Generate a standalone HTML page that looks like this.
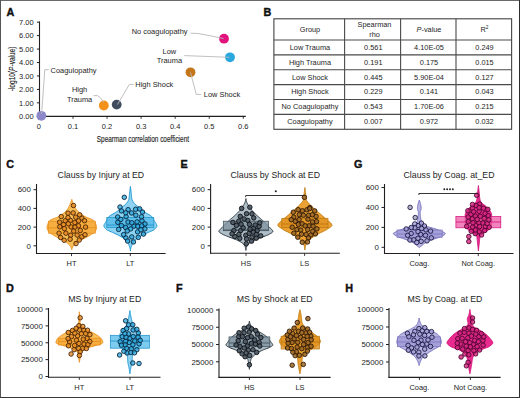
<!DOCTYPE html>
<html><head><meta charset="utf-8"><style>
html,body{margin:0;padding:0;background:#fff;}
#fig{position:relative;width:520px;height:398px;overflow:hidden;background:#fff;}
svg{position:absolute;left:0;top:0;}
text{font-family:"Liberation Sans", sans-serif;}
</style></head><body><div id="fig">
<svg width="520" height="398" viewBox="0 0 520 398">
<rect x="0" y="0" width="520" height="398" fill="#fff"/>
<text x="6.60" y="15.60" font-size="10.8" text-anchor="start" fill="#111" font-weight="bold" stroke="#111" stroke-width="0.4">A</text>
<line x1="39.50" y1="21.50" x2="39.50" y2="116.90" stroke="#231f20" stroke-width="1.1" />
<line x1="39.00" y1="116.40" x2="245.80" y2="116.40" stroke="#231f20" stroke-width="1.1" />
<line x1="36.90" y1="116.30" x2="39.50" y2="116.30" stroke="#231f20" stroke-width="1" />
<text x="33.60" y="119.05" font-size="7.5" text-anchor="end" fill="#1e1e1e" font-weight="normal" >0.00</text>
<line x1="36.90" y1="102.85" x2="39.50" y2="102.85" stroke="#231f20" stroke-width="1" />
<text x="33.60" y="105.60" font-size="7.5" text-anchor="end" fill="#1e1e1e" font-weight="normal" >1.00</text>
<line x1="36.90" y1="89.40" x2="39.50" y2="89.40" stroke="#231f20" stroke-width="1" />
<text x="33.60" y="92.15" font-size="7.5" text-anchor="end" fill="#1e1e1e" font-weight="normal" >2.00</text>
<line x1="36.90" y1="75.95" x2="39.50" y2="75.95" stroke="#231f20" stroke-width="1" />
<text x="33.60" y="78.70" font-size="7.5" text-anchor="end" fill="#1e1e1e" font-weight="normal" >3.00</text>
<line x1="36.90" y1="62.50" x2="39.50" y2="62.50" stroke="#231f20" stroke-width="1" />
<text x="33.60" y="65.25" font-size="7.5" text-anchor="end" fill="#1e1e1e" font-weight="normal" >4.00</text>
<line x1="36.90" y1="49.05" x2="39.50" y2="49.05" stroke="#231f20" stroke-width="1" />
<text x="33.60" y="51.80" font-size="7.5" text-anchor="end" fill="#1e1e1e" font-weight="normal" >5.00</text>
<line x1="36.90" y1="35.60" x2="39.50" y2="35.60" stroke="#231f20" stroke-width="1" />
<text x="33.60" y="38.35" font-size="7.5" text-anchor="end" fill="#1e1e1e" font-weight="normal" >6.00</text>
<line x1="36.90" y1="22.15" x2="39.50" y2="22.15" stroke="#231f20" stroke-width="1" />
<text x="33.60" y="24.90" font-size="7.5" text-anchor="end" fill="#1e1e1e" font-weight="normal" >7.00</text>
<line x1="38.94" y1="116.40" x2="38.94" y2="118.80" stroke="#231f20" stroke-width="0.9" />
<text x="38.94" y="128.90" font-size="7.5" text-anchor="middle" fill="#1e1e1e" font-weight="normal" >0</text>
<line x1="73.00" y1="116.40" x2="73.00" y2="118.80" stroke="#231f20" stroke-width="0.9" />
<text x="73.00" y="128.90" font-size="7.5" text-anchor="middle" fill="#1e1e1e" font-weight="normal" >0.1</text>
<line x1="107.06" y1="116.40" x2="107.06" y2="118.80" stroke="#231f20" stroke-width="0.9" />
<text x="107.06" y="128.90" font-size="7.5" text-anchor="middle" fill="#1e1e1e" font-weight="normal" >0.2</text>
<line x1="141.12" y1="116.40" x2="141.12" y2="118.80" stroke="#231f20" stroke-width="0.9" />
<text x="141.12" y="128.90" font-size="7.5" text-anchor="middle" fill="#1e1e1e" font-weight="normal" >0.3</text>
<line x1="175.18" y1="116.40" x2="175.18" y2="118.80" stroke="#231f20" stroke-width="0.9" />
<text x="175.18" y="128.90" font-size="7.5" text-anchor="middle" fill="#1e1e1e" font-weight="normal" >0.4</text>
<line x1="209.24" y1="116.40" x2="209.24" y2="118.80" stroke="#231f20" stroke-width="0.9" />
<text x="209.24" y="128.90" font-size="7.5" text-anchor="middle" fill="#1e1e1e" font-weight="normal" >0.5</text>
<line x1="243.30" y1="116.40" x2="243.30" y2="118.80" stroke="#231f20" stroke-width="0.9" />
<text x="243.30" y="128.90" font-size="7.5" text-anchor="middle" fill="#1e1e1e" font-weight="normal" >0.6</text>
<text transform="translate(14.7,68.9) rotate(-90) scale(0.80,1)" font-size="8.2" text-anchor="middle" fill="#1e1e1e" stroke="#1e1e1e" stroke-width="0.12">-log10(<tspan font-style="italic">P</tspan>-value)</text>
<text transform="translate(96.8,141.8) scale(0.70,1)" font-size="9.2" fill="#1e1e1e" stroke="#1e1e1e" stroke-width="0.15">Spearman correlation coefficient</text>
<circle cx="41.30" cy="115.80" r="4.9" fill="#8c87c8"/>
<circle cx="103.80" cy="105.50" r="4.9" fill="#f39019"/>
<circle cx="116.70" cy="104.60" r="4.9" fill="#3f4b5e"/>
<circle cx="190.50" cy="72.30" r="4.9" fill="#c4761a"/>
<circle cx="230.00" cy="57.30" r="4.9" fill="#29a7de"/>
<circle cx="224.00" cy="38.70" r="4.9" fill="#e3137d"/>
<path d="M41.6,114 L44.8,69.7 L48.8,69.7" fill="none" stroke="#b9b9b9" stroke-width="0.9"/>
<path d="M103.5,102.5 Q100.5,96.5 97.5,95.6 L93.6,95.6" fill="none" stroke="#b9b9b9" stroke-width="0.9"/>
<path d="M117.5,104.5 L129.4,84.4 L133.5,84.4" fill="none" stroke="#b9b9b9" stroke-width="0.9"/>
<path d="M190.5,72.5 L196.3,94.4 L201.2,94.4" fill="none" stroke="#b9b9b9" stroke-width="0.9"/>
<path d="M229.5,57.3 L184.3,55.6" fill="none" stroke="#b9b9b9" stroke-width="0.9"/>
<path d="M223.5,38.6 Q210,35.5 198,33.5 L190.7,33.2" fill="none" stroke="#b9b9b9" stroke-width="0.9"/>
<text x="50.60" y="72.60" font-size="7.45" text-anchor="start" fill="#1e1e1e" font-weight="normal" >Coagulopathy</text>
<text x="79.60" y="92.40" font-size="7.45" text-anchor="middle" fill="#1e1e1e" font-weight="normal" >High</text>
<text x="79.60" y="101.60" font-size="7.45" text-anchor="middle" fill="#1e1e1e" font-weight="normal" >Trauma</text>
<text x="135.30" y="87.20" font-size="7.45" text-anchor="start" fill="#1e1e1e" font-weight="normal" >High Shock</text>
<text x="203.80" y="97.20" font-size="7.45" text-anchor="start" fill="#1e1e1e" font-weight="normal" >Low Shock</text>
<text x="169.40" y="54.10" font-size="7.45" text-anchor="middle" fill="#1e1e1e" font-weight="normal" >Low</text>
<text x="169.40" y="62.90" font-size="7.45" text-anchor="middle" fill="#1e1e1e" font-weight="normal" >Trauma</text>
<text x="131.70" y="33.80" font-size="7.45" text-anchor="start" fill="#1e1e1e" font-weight="normal" >No coagulopathy</text>
<text x="263.40" y="15.60" font-size="10.8" text-anchor="start" fill="#111" font-weight="bold" stroke="#111" stroke-width="0.4">B</text>
<rect x="273.9" y="18.8" width="237.70" height="110.50" fill="none" stroke="#4a4a4a" stroke-width="1.15"/>
<line x1="273.90" y1="40.00" x2="511.60" y2="40.00" stroke="#4a4a4a" stroke-width="1.1" />
<line x1="273.90" y1="54.90" x2="511.60" y2="54.90" stroke="#4a4a4a" stroke-width="1.1" />
<line x1="273.90" y1="69.80" x2="511.60" y2="69.80" stroke="#4a4a4a" stroke-width="1.1" />
<line x1="273.90" y1="84.60" x2="511.60" y2="84.60" stroke="#4a4a4a" stroke-width="1.1" />
<line x1="273.90" y1="99.50" x2="511.60" y2="99.50" stroke="#4a4a4a" stroke-width="1.1" />
<line x1="273.90" y1="114.40" x2="511.60" y2="114.40" stroke="#4a4a4a" stroke-width="1.1" />
<line x1="344.60" y1="18.80" x2="344.60" y2="129.30" stroke="#4a4a4a" stroke-width="1.1" />
<line x1="400.60" y1="18.80" x2="400.60" y2="129.30" stroke="#4a4a4a" stroke-width="1.1" />
<line x1="456.00" y1="18.80" x2="456.00" y2="129.30" stroke="#4a4a4a" stroke-width="1.1" />
<text x="309.95" y="31.70" font-size="7.35" text-anchor="middle" fill="#1e1e1e" font-weight="normal" >Group</text>
<text x="374.50" y="27.00" font-size="7.35" text-anchor="middle" fill="#1e1e1e" font-weight="normal" >Spearman</text>
<text x="374.50" y="36.60" font-size="7.35" text-anchor="middle" fill="#1e1e1e" font-weight="normal" >rho</text>
<text x="429.00" y="31.70" font-size="7.35" text-anchor="middle" fill="#1e1e1e" font-weight="normal" ><tspan font-style="italic">P</tspan>-value</text>
<text x="484.50" y="31.70" font-size="7.35" text-anchor="middle" fill="#1e1e1e" font-weight="normal" >R<tspan font-size="4.8" dy="-2.9">2</tspan></text>
<text x="309.95" y="49.80" font-size="7.35" text-anchor="middle" fill="#1e1e1e" font-weight="normal" >Low Trauma</text>
<text x="373.30" y="49.80" font-size="7.35" text-anchor="middle" fill="#1e1e1e" font-weight="normal" >0.561</text>
<text x="429.00" y="49.80" font-size="7.35" text-anchor="middle" fill="#1e1e1e" font-weight="normal" >4.10E-05</text>
<text x="484.50" y="49.80" font-size="7.35" text-anchor="middle" fill="#1e1e1e" font-weight="normal" >0.249</text>
<text x="309.95" y="64.70" font-size="7.35" text-anchor="middle" fill="#1e1e1e" font-weight="normal" >High Trauma</text>
<text x="373.30" y="64.70" font-size="7.35" text-anchor="middle" fill="#1e1e1e" font-weight="normal" >0.191</text>
<text x="429.00" y="64.70" font-size="7.35" text-anchor="middle" fill="#1e1e1e" font-weight="normal" >0.175</text>
<text x="484.50" y="64.70" font-size="7.35" text-anchor="middle" fill="#1e1e1e" font-weight="normal" >0.015</text>
<text x="309.95" y="79.55" font-size="7.35" text-anchor="middle" fill="#1e1e1e" font-weight="normal" >Low Shock</text>
<text x="373.30" y="79.55" font-size="7.35" text-anchor="middle" fill="#1e1e1e" font-weight="normal" >0.445</text>
<text x="429.00" y="79.55" font-size="7.35" text-anchor="middle" fill="#1e1e1e" font-weight="normal" >5.90E-04</text>
<text x="484.50" y="79.55" font-size="7.35" text-anchor="middle" fill="#1e1e1e" font-weight="normal" >0.127</text>
<text x="309.95" y="94.40" font-size="7.35" text-anchor="middle" fill="#1e1e1e" font-weight="normal" >High Shock</text>
<text x="373.30" y="94.40" font-size="7.35" text-anchor="middle" fill="#1e1e1e" font-weight="normal" >0.229</text>
<text x="429.00" y="94.40" font-size="7.35" text-anchor="middle" fill="#1e1e1e" font-weight="normal" >0.141</text>
<text x="484.50" y="94.40" font-size="7.35" text-anchor="middle" fill="#1e1e1e" font-weight="normal" >0.043</text>
<text x="309.95" y="109.30" font-size="7.35" text-anchor="middle" fill="#1e1e1e" font-weight="normal" >No Coagulopathy</text>
<text x="373.30" y="109.30" font-size="7.35" text-anchor="middle" fill="#1e1e1e" font-weight="normal" >0.543</text>
<text x="429.00" y="109.30" font-size="7.35" text-anchor="middle" fill="#1e1e1e" font-weight="normal" >1.70E-06</text>
<text x="484.50" y="109.30" font-size="7.35" text-anchor="middle" fill="#1e1e1e" font-weight="normal" >0.215</text>
<text x="309.95" y="124.20" font-size="7.35" text-anchor="middle" fill="#1e1e1e" font-weight="normal" >Coagulopathy</text>
<text x="373.30" y="124.20" font-size="7.35" text-anchor="middle" fill="#1e1e1e" font-weight="normal" >0.007</text>
<text x="429.00" y="124.20" font-size="7.35" text-anchor="middle" fill="#1e1e1e" font-weight="normal" >0.972</text>
<text x="484.50" y="124.20" font-size="7.35" text-anchor="middle" fill="#1e1e1e" font-weight="normal" >0.032</text>
<text x="6.30" y="167.60" font-size="10.8" text-anchor="start" fill="#111" font-weight="bold" stroke="#111" stroke-width="0.4">C</text>
<text x="100.90" y="178.10" font-size="8.75" text-anchor="middle" fill="#1e1e1e" font-weight="normal" >Clauss by Injury at ED</text>
<line x1="36.50" y1="184.00" x2="36.50" y2="254.00" stroke="#231f20" stroke-width="1.1" />
<line x1="36.00" y1="253.50" x2="165.60" y2="253.50" stroke="#231f20" stroke-width="1.1" />
<line x1="33.50" y1="189.70" x2="36.50" y2="189.70" stroke="#231f20" stroke-width="1" />
<text x="30.90" y="192.45" font-size="7.9" text-anchor="end" fill="#1e1e1e" font-weight="normal" >600</text>
<line x1="33.50" y1="208.40" x2="36.50" y2="208.40" stroke="#231f20" stroke-width="1" />
<text x="30.90" y="211.15" font-size="7.9" text-anchor="end" fill="#1e1e1e" font-weight="normal" >400</text>
<line x1="33.50" y1="227.10" x2="36.50" y2="227.10" stroke="#231f20" stroke-width="1" />
<text x="30.90" y="229.85" font-size="7.9" text-anchor="end" fill="#1e1e1e" font-weight="normal" >200</text>
<line x1="33.50" y1="245.80" x2="36.50" y2="245.80" stroke="#231f20" stroke-width="1" />
<text x="30.90" y="248.55" font-size="7.9" text-anchor="end" fill="#1e1e1e" font-weight="normal" >0</text>
<line x1="71.50" y1="253.50" x2="71.50" y2="256.10" stroke="#231f20" stroke-width="0.9" />
<text x="71.50" y="265.75" font-size="7.45" text-anchor="middle" fill="#1e1e1e" font-weight="normal" >HT</text>
<line x1="130.30" y1="253.50" x2="130.30" y2="256.10" stroke="#231f20" stroke-width="0.9" />
<text x="130.30" y="265.75" font-size="7.45" text-anchor="middle" fill="#1e1e1e" font-weight="normal" >LT</text>
<path d="M71.80,199.40 L71.68,199.82 L71.55,200.24 L71.41,200.67 L71.27,201.09 L71.13,201.51 L70.98,201.93 L70.82,202.35 L70.66,202.77 L70.50,203.20 L70.33,203.62 L70.16,204.04 L69.99,204.46 L69.81,204.88 L69.63,205.31 L69.44,205.73 L69.25,206.15 L69.04,206.57 L68.83,206.99 L68.60,207.42 L68.36,207.84 L68.10,208.26 L67.83,208.68 L67.54,209.10 L67.23,209.52 L66.90,209.95 L66.55,210.37 L66.18,210.79 L65.79,211.21 L65.39,211.63 L64.97,212.06 L64.52,212.48 L64.05,212.90 L63.55,213.32 L63.00,213.74 L62.43,214.16 L61.82,214.59 L61.18,215.01 L60.51,215.43 L59.82,215.85 L59.10,216.27 L58.36,216.70 L57.58,217.12 L56.63,217.54 L55.56,217.96 L54.42,218.38 L53.28,218.81 L52.19,219.23 L51.23,219.65 L50.45,220.07 L49.91,220.49 L49.54,220.91 L49.20,221.34 L48.91,221.76 L48.64,222.18 L48.41,222.60 L48.21,223.02 L48.03,223.45 L47.88,223.87 L47.74,224.29 L47.61,224.71 L47.48,225.13 L47.36,225.55 L47.25,225.98 L47.15,226.40 L47.08,226.82 L47.03,227.24 L47.00,227.66 L47.01,228.09 L47.08,228.51 L47.20,228.93 L47.35,229.35 L47.55,229.77 L47.77,230.19 L48.01,230.62 L48.27,231.04 L48.54,231.46 L48.88,231.88 L49.33,232.30 L49.85,232.73 L50.42,233.15 L51.03,233.57 L51.65,233.99 L52.26,234.41 L52.90,234.84 L53.58,235.26 L54.28,235.68 L55.02,236.10 L55.77,236.52 L56.54,236.94 L57.32,237.37 L58.15,237.79 L59.04,238.21 L59.94,238.63 L60.85,239.05 L61.73,239.48 L62.56,239.90 L63.30,240.32 L64.01,240.74 L64.69,241.16 L65.34,241.58 L65.96,242.01 L66.55,242.43 L67.09,242.85 L67.61,243.27 L68.11,243.69 L68.59,244.12 L69.05,244.54 L69.48,244.96 L69.86,245.38 L70.17,245.80 L70.43,246.23 L70.68,246.65 L70.91,247.07 L71.13,247.49 L71.33,247.91 L71.50,248.33 L71.64,248.76 L71.74,249.18 L71.80,249.60 L71.80,249.60 L71.86,249.18 L71.96,248.76 L72.10,248.33 L72.27,247.91 L72.47,247.49 L72.69,247.07 L72.92,246.65 L73.17,246.23 L73.43,245.80 L73.74,245.38 L74.12,244.96 L74.55,244.54 L75.01,244.12 L75.49,243.69 L75.99,243.27 L76.51,242.85 L77.05,242.43 L77.64,242.01 L78.26,241.58 L78.91,241.16 L79.59,240.74 L80.30,240.32 L81.04,239.90 L81.87,239.48 L82.75,239.05 L83.66,238.63 L84.56,238.21 L85.45,237.79 L86.28,237.37 L87.06,236.94 L87.83,236.52 L88.58,236.10 L89.32,235.68 L90.02,235.26 L90.70,234.84 L91.34,234.41 L91.95,233.99 L92.57,233.57 L93.18,233.15 L93.75,232.73 L94.27,232.30 L94.72,231.88 L95.06,231.46 L95.33,231.04 L95.59,230.62 L95.83,230.19 L96.05,229.77 L96.25,229.35 L96.40,228.93 L96.52,228.51 L96.59,228.09 L96.60,227.66 L96.57,227.24 L96.52,226.82 L96.45,226.40 L96.35,225.98 L96.24,225.55 L96.12,225.13 L95.99,224.71 L95.86,224.29 L95.72,223.87 L95.57,223.45 L95.39,223.02 L95.19,222.60 L94.96,222.18 L94.69,221.76 L94.40,221.34 L94.06,220.91 L93.69,220.49 L93.15,220.07 L92.37,219.65 L91.41,219.23 L90.32,218.81 L89.18,218.38 L88.04,217.96 L86.97,217.54 L86.02,217.12 L85.24,216.70 L84.50,216.27 L83.78,215.85 L83.09,215.43 L82.42,215.01 L81.78,214.59 L81.17,214.16 L80.60,213.74 L80.05,213.32 L79.55,212.90 L79.08,212.48 L78.63,212.06 L78.21,211.63 L77.81,211.21 L77.42,210.79 L77.05,210.37 L76.70,209.95 L76.37,209.52 L76.06,209.10 L75.77,208.68 L75.50,208.26 L75.24,207.84 L75.00,207.42 L74.77,206.99 L74.56,206.57 L74.35,206.15 L74.16,205.73 L73.97,205.31 L73.79,204.88 L73.61,204.46 L73.44,204.04 L73.27,203.62 L73.10,203.20 L72.94,202.77 L72.78,202.35 L72.62,201.93 L72.47,201.51 L72.33,201.09 L72.19,200.67 L72.05,200.24 L71.92,199.82 L71.80,199.40Z" fill="#f9bf57" stroke="#ee8f1c" stroke-width="1.0"/>
<rect x="48.50" y="221.20" width="46.80" height="12.00" fill="#f6a838" fill-opacity="0.75" stroke="#e98d1c" stroke-width="0.7"/>
<line x1="48.50" y1="227.80" x2="95.30" y2="227.80" stroke="#e98d1c" stroke-width="0.8"/>
<circle cx="81.88" cy="218.07" r="2.25" fill="#e08420" fill-opacity="0.75" stroke="#4a2503" stroke-width="0.9"/>
<circle cx="65.89" cy="233.20" r="2.25" fill="#e08420" fill-opacity="0.75" stroke="#4a2503" stroke-width="0.9"/>
<circle cx="71.14" cy="226.93" r="2.25" fill="#e08420" fill-opacity="0.75" stroke="#4a2503" stroke-width="0.9"/>
<circle cx="80.30" cy="230.46" r="2.25" fill="#e08420" fill-opacity="0.75" stroke="#4a2503" stroke-width="0.9"/>
<circle cx="61.27" cy="216.56" r="2.25" fill="#e08420" fill-opacity="0.75" stroke="#4a2503" stroke-width="0.9"/>
<circle cx="70.68" cy="235.24" r="2.25" fill="#e08420" fill-opacity="0.75" stroke="#4a2503" stroke-width="0.9"/>
<circle cx="59.06" cy="233.17" r="2.25" fill="#e08420" fill-opacity="0.75" stroke="#4a2503" stroke-width="0.9"/>
<circle cx="78.48" cy="225.80" r="2.25" fill="#e08420" fill-opacity="0.75" stroke="#4a2503" stroke-width="0.9"/>
<circle cx="84.52" cy="220.70" r="2.25" fill="#e08420" fill-opacity="0.75" stroke="#4a2503" stroke-width="0.9"/>
<circle cx="60.60" cy="237.50" r="2.25" fill="#e08420" fill-opacity="0.75" stroke="#4a2503" stroke-width="0.9"/>
<circle cx="73.15" cy="212.92" r="2.25" fill="#e08420" fill-opacity="0.75" stroke="#4a2503" stroke-width="0.9"/>
<circle cx="70.13" cy="239.20" r="2.25" fill="#e08420" fill-opacity="0.75" stroke="#4a2503" stroke-width="0.9"/>
<circle cx="70.40" cy="220.39" r="2.25" fill="#e08420" fill-opacity="0.75" stroke="#4a2503" stroke-width="0.9"/>
<circle cx="68.02" cy="213.17" r="2.25" fill="#e08420" fill-opacity="0.75" stroke="#4a2503" stroke-width="0.9"/>
<circle cx="65.23" cy="220.81" r="2.25" fill="#e08420" fill-opacity="0.75" stroke="#4a2503" stroke-width="0.9"/>
<circle cx="59.58" cy="222.19" r="2.25" fill="#e08420" fill-opacity="0.75" stroke="#4a2503" stroke-width="0.9"/>
<circle cx="76.00" cy="243.59" r="2.25" fill="#e08420" fill-opacity="0.75" stroke="#4a2503" stroke-width="0.9"/>
<circle cx="67.98" cy="217.61" r="2.25" fill="#e08420" fill-opacity="0.75" stroke="#4a2503" stroke-width="0.9"/>
<circle cx="77.10" cy="235.06" r="2.25" fill="#e08420" fill-opacity="0.75" stroke="#4a2503" stroke-width="0.9"/>
<circle cx="74.86" cy="222.52" r="2.25" fill="#e08420" fill-opacity="0.75" stroke="#4a2503" stroke-width="0.9"/>
<circle cx="81.85" cy="236.78" r="2.25" fill="#e08420" fill-opacity="0.75" stroke="#4a2503" stroke-width="0.9"/>
<circle cx="74.90" cy="227.15" r="2.25" fill="#e08420" fill-opacity="0.75" stroke="#4a2503" stroke-width="0.9"/>
<circle cx="59.80" cy="226.80" r="2.25" fill="#e08420" fill-opacity="0.75" stroke="#4a2503" stroke-width="0.9"/>
<circle cx="63.60" cy="224.62" r="2.25" fill="#e08420" fill-opacity="0.75" stroke="#4a2503" stroke-width="0.9"/>
<circle cx="85.52" cy="227.08" r="2.25" fill="#e08420" fill-opacity="0.75" stroke="#4a2503" stroke-width="0.9"/>
<circle cx="64.15" cy="240.26" r="2.25" fill="#e08420" fill-opacity="0.75" stroke="#4a2503" stroke-width="0.9"/>
<circle cx="79.69" cy="214.79" r="2.25" fill="#e08420" fill-opacity="0.75" stroke="#4a2503" stroke-width="0.9"/>
<circle cx="64.40" cy="228.60" r="2.25" fill="#e08420" fill-opacity="0.75" stroke="#4a2503" stroke-width="0.9"/>
<circle cx="68.34" cy="223.77" r="2.25" fill="#e08420" fill-opacity="0.75" stroke="#4a2503" stroke-width="0.9"/>
<circle cx="75.69" cy="217.19" r="2.25" fill="#e08420" fill-opacity="0.75" stroke="#4a2503" stroke-width="0.9"/>
<circle cx="73.71" cy="231.09" r="2.25" fill="#e08420" fill-opacity="0.75" stroke="#4a2503" stroke-width="0.9"/>
<circle cx="84.98" cy="234.75" r="2.25" fill="#e08420" fill-opacity="0.75" stroke="#4a2503" stroke-width="0.9"/>
<circle cx="78.59" cy="220.85" r="2.25" fill="#e08420" fill-opacity="0.75" stroke="#4a2503" stroke-width="0.9"/>
<circle cx="79.22" cy="240.08" r="2.25" fill="#e08420" fill-opacity="0.75" stroke="#4a2503" stroke-width="0.9"/>
<circle cx="73.50" cy="205.50" r="2.25" fill="#e08420" fill-opacity="0.75" stroke="#4a2503" stroke-width="0.9"/>
<path d="M130.40,186.40 L130.32,186.94 L130.25,187.48 L130.17,188.02 L130.10,188.56 L130.03,189.11 L129.96,189.65 L129.89,190.19 L129.82,190.73 L129.76,191.27 L129.69,191.81 L129.63,192.35 L129.57,192.89 L129.51,193.44 L129.45,193.98 L129.40,194.52 L129.36,195.06 L129.32,195.60 L129.28,196.14 L129.24,196.68 L129.19,197.22 L129.13,197.76 L129.06,198.31 L128.97,198.85 L128.84,199.39 L128.64,199.93 L128.39,200.47 L128.10,201.01 L127.76,201.55 L127.40,202.09 L127.00,202.64 L126.59,203.18 L126.17,203.72 L125.68,204.26 L125.08,204.80 L124.39,205.34 L123.65,205.88 L122.91,206.42 L122.19,206.96 L121.54,207.51 L120.91,208.05 L120.30,208.59 L119.69,209.13 L119.09,209.67 L118.48,210.21 L117.85,210.75 L117.20,211.29 L116.52,211.84 L115.79,212.38 L114.96,212.92 L114.02,213.46 L113.02,214.00 L112.01,214.54 L111.04,215.08 L110.17,215.62 L109.44,216.16 L108.91,216.71 L108.49,217.25 L108.13,217.79 L107.81,218.33 L107.52,218.87 L107.25,219.41 L106.98,219.95 L106.71,220.49 L106.42,221.04 L106.10,221.58 L105.74,222.12 L105.37,222.66 L105.01,223.20 L104.67,223.74 L104.38,224.28 L104.14,224.82 L103.97,225.36 L103.90,225.91 L103.96,226.45 L104.19,226.99 L104.55,227.53 L105.02,228.07 L105.56,228.61 L106.13,229.15 L106.77,229.69 L107.66,230.24 L108.77,230.78 L110.01,231.32 L111.29,231.86 L112.55,232.40 L113.69,232.94 L114.81,233.48 L115.95,234.02 L117.08,234.56 L118.18,235.11 L119.23,235.65 L120.21,236.19 L121.13,236.73 L122.04,237.27 L122.91,237.81 L123.74,238.35 L124.48,238.89 L125.13,239.44 L125.66,239.98 L126.16,240.52 L126.62,241.06 L127.04,241.60 L127.43,242.14 L127.77,242.68 L128.08,243.22 L128.34,243.76 L128.57,244.31 L128.80,244.85 L129.02,245.39 L129.24,245.93 L129.44,246.47 L129.63,247.01 L129.81,247.55 L129.97,248.09 L130.11,248.64 L130.22,249.18 L130.31,249.72 L130.37,250.26 L130.40,250.80 L130.40,250.80 L130.43,250.26 L130.49,249.72 L130.58,249.18 L130.69,248.64 L130.83,248.09 L130.99,247.55 L131.17,247.01 L131.36,246.47 L131.56,245.93 L131.78,245.39 L132.00,244.85 L132.23,244.31 L132.46,243.76 L132.72,243.22 L133.03,242.68 L133.37,242.14 L133.76,241.60 L134.18,241.06 L134.64,240.52 L135.14,239.98 L135.67,239.44 L136.32,238.89 L137.06,238.35 L137.89,237.81 L138.76,237.27 L139.67,236.73 L140.59,236.19 L141.57,235.65 L142.62,235.11 L143.72,234.56 L144.85,234.02 L145.99,233.48 L147.11,232.94 L148.25,232.40 L149.51,231.86 L150.79,231.32 L152.03,230.78 L153.14,230.24 L154.03,229.69 L154.67,229.15 L155.24,228.61 L155.78,228.07 L156.25,227.53 L156.61,226.99 L156.84,226.45 L156.90,225.91 L156.83,225.36 L156.66,224.82 L156.42,224.28 L156.13,223.74 L155.79,223.20 L155.43,222.66 L155.06,222.12 L154.70,221.58 L154.38,221.04 L154.09,220.49 L153.82,219.95 L153.55,219.41 L153.28,218.87 L152.99,218.33 L152.67,217.79 L152.31,217.25 L151.89,216.71 L151.36,216.16 L150.63,215.62 L149.76,215.08 L148.79,214.54 L147.78,214.00 L146.78,213.46 L145.84,212.92 L145.01,212.38 L144.28,211.84 L143.60,211.29 L142.95,210.75 L142.32,210.21 L141.71,209.67 L141.11,209.13 L140.50,208.59 L139.89,208.05 L139.26,207.51 L138.61,206.96 L137.89,206.42 L137.15,205.88 L136.41,205.34 L135.72,204.80 L135.12,204.26 L134.63,203.72 L134.21,203.18 L133.80,202.64 L133.40,202.09 L133.04,201.55 L132.70,201.01 L132.41,200.47 L132.16,199.93 L131.96,199.39 L131.83,198.85 L131.74,198.31 L131.67,197.76 L131.61,197.22 L131.56,196.68 L131.52,196.14 L131.48,195.60 L131.44,195.06 L131.40,194.52 L131.35,193.98 L131.29,193.44 L131.23,192.89 L131.17,192.35 L131.11,191.81 L131.04,191.27 L130.98,190.73 L130.91,190.19 L130.84,189.65 L130.77,189.11 L130.70,188.56 L130.63,188.02 L130.55,187.48 L130.48,186.94 L130.40,186.40Z" fill="#8fd3f2" stroke="#1d9ad6" stroke-width="1.0"/>
<rect x="106.80" y="217.50" width="47.00" height="10.20" fill="#52b9e8" fill-opacity="0.75" stroke="#1a8fc9" stroke-width="0.7"/>
<line x1="106.80" y1="225.00" x2="153.80" y2="225.00" stroke="#1a8fc9" stroke-width="0.8"/>
<circle cx="138.28" cy="237.39" r="2.25" fill="#29a3d6" fill-opacity="0.75" stroke="#06263f" stroke-width="0.9"/>
<circle cx="121.43" cy="210.89" r="2.25" fill="#29a3d6" fill-opacity="0.75" stroke="#06263f" stroke-width="0.9"/>
<circle cx="137.61" cy="231.89" r="2.25" fill="#29a3d6" fill-opacity="0.75" stroke="#06263f" stroke-width="0.9"/>
<circle cx="125.63" cy="227.57" r="2.25" fill="#29a3d6" fill-opacity="0.75" stroke="#06263f" stroke-width="0.9"/>
<circle cx="133.99" cy="226.11" r="2.25" fill="#29a3d6" fill-opacity="0.75" stroke="#06263f" stroke-width="0.9"/>
<circle cx="121.43" cy="225.56" r="2.25" fill="#29a3d6" fill-opacity="0.75" stroke="#06263f" stroke-width="0.9"/>
<circle cx="128.02" cy="222.05" r="2.25" fill="#29a3d6" fill-opacity="0.75" stroke="#06263f" stroke-width="0.9"/>
<circle cx="144.85" cy="228.84" r="2.25" fill="#29a3d6" fill-opacity="0.75" stroke="#06263f" stroke-width="0.9"/>
<circle cx="131.77" cy="236.92" r="2.25" fill="#29a3d6" fill-opacity="0.75" stroke="#06263f" stroke-width="0.9"/>
<circle cx="141.97" cy="220.80" r="2.25" fill="#29a3d6" fill-opacity="0.75" stroke="#06263f" stroke-width="0.9"/>
<circle cx="117.67" cy="217.04" r="2.25" fill="#29a3d6" fill-opacity="0.75" stroke="#06263f" stroke-width="0.9"/>
<circle cx="120.83" cy="219.41" r="2.25" fill="#29a3d6" fill-opacity="0.75" stroke="#06263f" stroke-width="0.9"/>
<circle cx="144.96" cy="223.94" r="2.25" fill="#29a3d6" fill-opacity="0.75" stroke="#06263f" stroke-width="0.9"/>
<circle cx="125.87" cy="237.85" r="2.25" fill="#29a3d6" fill-opacity="0.75" stroke="#06263f" stroke-width="0.9"/>
<circle cx="131.85" cy="222.79" r="2.25" fill="#29a3d6" fill-opacity="0.75" stroke="#06263f" stroke-width="0.9"/>
<circle cx="130.63" cy="228.86" r="2.25" fill="#29a3d6" fill-opacity="0.75" stroke="#06263f" stroke-width="0.9"/>
<circle cx="126.09" cy="216.65" r="2.25" fill="#29a3d6" fill-opacity="0.75" stroke="#06263f" stroke-width="0.9"/>
<circle cx="123.64" cy="234.61" r="2.25" fill="#29a3d6" fill-opacity="0.75" stroke="#06263f" stroke-width="0.9"/>
<circle cx="118.65" cy="229.38" r="2.25" fill="#29a3d6" fill-opacity="0.75" stroke="#06263f" stroke-width="0.9"/>
<circle cx="141.51" cy="216.78" r="2.25" fill="#29a3d6" fill-opacity="0.75" stroke="#06263f" stroke-width="0.9"/>
<circle cx="131.61" cy="212.99" r="2.25" fill="#29a3d6" fill-opacity="0.75" stroke="#06263f" stroke-width="0.9"/>
<circle cx="137.07" cy="221.86" r="2.25" fill="#29a3d6" fill-opacity="0.75" stroke="#06263f" stroke-width="0.9"/>
<circle cx="128.12" cy="209.66" r="2.25" fill="#29a3d6" fill-opacity="0.75" stroke="#06263f" stroke-width="0.9"/>
<circle cx="135.84" cy="215.20" r="2.25" fill="#29a3d6" fill-opacity="0.75" stroke="#06263f" stroke-width="0.9"/>
<circle cx="142.48" cy="212.05" r="2.25" fill="#29a3d6" fill-opacity="0.75" stroke="#06263f" stroke-width="0.9"/>
<circle cx="135.67" cy="209.31" r="2.25" fill="#29a3d6" fill-opacity="0.75" stroke="#06263f" stroke-width="0.9"/>
<circle cx="127.61" cy="241.02" r="2.25" fill="#29a3d6" fill-opacity="0.75" stroke="#06263f" stroke-width="0.9"/>
<circle cx="137.79" cy="226.32" r="2.25" fill="#29a3d6" fill-opacity="0.75" stroke="#06263f" stroke-width="0.9"/>
<circle cx="127.25" cy="230.91" r="2.25" fill="#29a3d6" fill-opacity="0.75" stroke="#06263f" stroke-width="0.9"/>
<circle cx="125.79" cy="212.79" r="2.25" fill="#29a3d6" fill-opacity="0.75" stroke="#06263f" stroke-width="0.9"/>
<circle cx="143.47" cy="234.08" r="2.25" fill="#29a3d6" fill-opacity="0.75" stroke="#06263f" stroke-width="0.9"/>
<circle cx="133.46" cy="241.93" r="2.25" fill="#29a3d6" fill-opacity="0.75" stroke="#06263f" stroke-width="0.9"/>
<circle cx="117.82" cy="222.31" r="2.25" fill="#29a3d6" fill-opacity="0.75" stroke="#06263f" stroke-width="0.9"/>
<circle cx="141.69" cy="225.87" r="2.25" fill="#29a3d6" fill-opacity="0.75" stroke="#06263f" stroke-width="0.9"/>
<circle cx="140.86" cy="229.81" r="2.25" fill="#29a3d6" fill-opacity="0.75" stroke="#06263f" stroke-width="0.9"/>
<circle cx="139.69" cy="208.86" r="2.25" fill="#29a3d6" fill-opacity="0.75" stroke="#06263f" stroke-width="0.9"/>
<circle cx="124.30" cy="197.30" r="2.25" fill="#29a3d6" fill-opacity="0.75" stroke="#06263f" stroke-width="0.9"/>
<circle cx="120.00" cy="207.00" r="2.25" fill="#29a3d6" fill-opacity="0.75" stroke="#06263f" stroke-width="0.9"/>
<text x="180.60" y="167.60" font-size="10.8" text-anchor="start" fill="#111" font-weight="bold" stroke="#111" stroke-width="0.4">E</text>
<text x="275.30" y="178.10" font-size="8.75" text-anchor="middle" fill="#1e1e1e" font-weight="normal" >Clauss by Shock at ED</text>
<line x1="210.60" y1="184.00" x2="210.60" y2="253.80" stroke="#231f20" stroke-width="1.1" />
<line x1="210.10" y1="253.30" x2="339.80" y2="253.30" stroke="#231f20" stroke-width="1.1" />
<line x1="207.60" y1="189.70" x2="210.60" y2="189.70" stroke="#231f20" stroke-width="1" />
<text x="205.00" y="192.45" font-size="7.9" text-anchor="end" fill="#1e1e1e" font-weight="normal" >600</text>
<line x1="207.60" y1="208.40" x2="210.60" y2="208.40" stroke="#231f20" stroke-width="1" />
<text x="205.00" y="211.15" font-size="7.9" text-anchor="end" fill="#1e1e1e" font-weight="normal" >400</text>
<line x1="207.60" y1="227.10" x2="210.60" y2="227.10" stroke="#231f20" stroke-width="1" />
<text x="205.00" y="229.85" font-size="7.9" text-anchor="end" fill="#1e1e1e" font-weight="normal" >200</text>
<line x1="207.60" y1="245.80" x2="210.60" y2="245.80" stroke="#231f20" stroke-width="1" />
<text x="205.00" y="248.55" font-size="7.9" text-anchor="end" fill="#1e1e1e" font-weight="normal" >0</text>
<line x1="246.00" y1="253.30" x2="246.00" y2="255.90" stroke="#231f20" stroke-width="0.9" />
<text x="246.00" y="265.55" font-size="7.45" text-anchor="middle" fill="#1e1e1e" font-weight="normal" >HS</text>
<line x1="304.60" y1="253.30" x2="304.60" y2="255.90" stroke="#231f20" stroke-width="0.9" />
<text x="304.60" y="265.55" font-size="7.45" text-anchor="middle" fill="#1e1e1e" font-weight="normal" >LS</text>
<path d="M245.90,198.60 L245.87,199.04 L245.81,199.47 L245.73,199.91 L245.63,200.34 L245.51,200.78 L245.38,201.21 L245.23,201.65 L245.07,202.08 L244.90,202.52 L244.72,202.95 L244.53,203.39 L244.34,203.82 L244.11,204.26 L243.82,204.69 L243.51,205.13 L243.17,205.56 L242.82,206.00 L242.49,206.44 L242.18,206.87 L241.89,207.31 L241.60,207.74 L241.31,208.18 L241.02,208.61 L240.73,209.05 L240.44,209.48 L240.13,209.92 L239.81,210.35 L239.47,210.79 L239.11,211.22 L238.73,211.66 L238.33,212.09 L237.91,212.53 L237.47,212.96 L237.03,213.40 L236.57,213.84 L236.11,214.27 L235.64,214.71 L235.18,215.14 L234.71,215.58 L234.23,216.01 L233.74,216.45 L233.24,216.88 L232.74,217.32 L232.23,217.75 L231.72,218.19 L231.22,218.62 L230.72,219.06 L230.23,219.49 L229.76,219.93 L229.30,220.36 L228.84,220.80 L228.39,221.24 L227.95,221.67 L227.51,222.11 L227.07,222.54 L226.63,222.98 L226.19,223.41 L225.76,223.85 L225.31,224.28 L224.87,224.72 L224.41,225.15 L223.96,225.59 L223.50,226.02 L223.05,226.46 L222.61,226.89 L222.18,227.33 L221.76,227.76 L221.36,228.20 L220.98,228.64 L220.56,229.07 L220.12,229.51 L219.70,229.94 L219.33,230.38 L219.05,230.81 L218.91,231.25 L218.96,231.68 L219.24,232.12 L219.73,232.55 L220.36,232.99 L221.08,233.42 L221.84,233.86 L222.59,234.29 L223.40,234.73 L224.36,235.16 L225.43,235.60 L226.57,236.04 L227.74,236.47 L228.89,236.91 L230.00,237.34 L231.11,237.78 L232.26,238.21 L233.42,238.65 L234.56,239.08 L235.66,239.52 L236.67,239.95 L237.59,240.39 L238.48,240.82 L239.35,241.26 L240.18,241.69 L240.93,242.13 L241.61,242.56 L242.18,243.00 L242.67,243.44 L243.13,243.87 L243.57,244.31 L243.98,244.74 L244.34,245.18 L244.66,245.61 L244.92,246.05 L245.12,246.48 L245.27,246.92 L245.39,247.35 L245.51,247.79 L245.62,248.22 L245.71,248.66 L245.79,249.09 L245.85,249.53 L245.89,249.96 L245.90,250.40 L245.90,250.40 L245.91,249.96 L245.95,249.53 L246.01,249.09 L246.09,248.66 L246.18,248.22 L246.29,247.79 L246.41,247.35 L246.53,246.92 L246.68,246.48 L246.88,246.05 L247.14,245.61 L247.46,245.18 L247.82,244.74 L248.23,244.31 L248.67,243.87 L249.13,243.44 L249.62,243.00 L250.19,242.56 L250.87,242.13 L251.62,241.69 L252.45,241.26 L253.32,240.82 L254.21,240.39 L255.13,239.95 L256.14,239.52 L257.24,239.08 L258.38,238.65 L259.54,238.21 L260.69,237.78 L261.80,237.34 L262.91,236.91 L264.06,236.47 L265.23,236.04 L266.37,235.60 L267.44,235.16 L268.40,234.73 L269.21,234.29 L269.96,233.86 L270.72,233.42 L271.44,232.99 L272.07,232.55 L272.56,232.12 L272.84,231.68 L272.89,231.25 L272.75,230.81 L272.47,230.38 L272.10,229.94 L271.68,229.51 L271.24,229.07 L270.82,228.64 L270.44,228.20 L270.04,227.76 L269.62,227.33 L269.19,226.89 L268.75,226.46 L268.30,226.02 L267.84,225.59 L267.39,225.15 L266.93,224.72 L266.49,224.28 L266.04,223.85 L265.61,223.41 L265.17,222.98 L264.73,222.54 L264.29,222.11 L263.85,221.67 L263.41,221.24 L262.96,220.80 L262.50,220.36 L262.04,219.93 L261.57,219.49 L261.08,219.06 L260.58,218.62 L260.08,218.19 L259.57,217.75 L259.06,217.32 L258.56,216.88 L258.06,216.45 L257.57,216.01 L257.09,215.58 L256.62,215.14 L256.16,214.71 L255.69,214.27 L255.23,213.84 L254.77,213.40 L254.33,212.96 L253.89,212.53 L253.47,212.09 L253.07,211.66 L252.69,211.22 L252.33,210.79 L251.99,210.35 L251.67,209.92 L251.36,209.48 L251.07,209.05 L250.78,208.61 L250.49,208.18 L250.20,207.74 L249.91,207.31 L249.62,206.87 L249.31,206.44 L248.98,206.00 L248.63,205.56 L248.29,205.13 L247.98,204.69 L247.69,204.26 L247.46,203.82 L247.27,203.39 L247.08,202.95 L246.90,202.52 L246.73,202.08 L246.57,201.65 L246.42,201.21 L246.29,200.78 L246.17,200.34 L246.07,199.91 L245.99,199.47 L245.93,199.04 L245.90,198.60Z" fill="#afbdc6" stroke="#2a3640" stroke-width="1.0"/>
<rect x="223.30" y="221.20" width="45.20" height="9.50" fill="#7f939f" fill-opacity="0.75" stroke="#3c4c58" stroke-width="0.7"/>
<line x1="223.30" y1="230.00" x2="268.50" y2="230.00" stroke="#3c4c58" stroke-width="0.8"/>
<circle cx="247.78" cy="220.37" r="2.25" fill="#4a5763" fill-opacity="0.9" stroke="#0d1114" stroke-width="0.9"/>
<circle cx="249.51" cy="224.38" r="2.25" fill="#4a5763" fill-opacity="0.9" stroke="#0d1114" stroke-width="0.9"/>
<circle cx="233.90" cy="230.49" r="2.25" fill="#4a5763" fill-opacity="0.9" stroke="#0d1114" stroke-width="0.9"/>
<circle cx="249.84" cy="207.19" r="2.25" fill="#4a5763" fill-opacity="0.9" stroke="#0d1114" stroke-width="0.9"/>
<circle cx="238.80" cy="221.08" r="2.25" fill="#4a5763" fill-opacity="0.9" stroke="#0d1114" stroke-width="0.9"/>
<circle cx="246.26" cy="243.84" r="2.25" fill="#4a5763" fill-opacity="0.9" stroke="#0d1114" stroke-width="0.9"/>
<circle cx="245.81" cy="235.29" r="2.25" fill="#4a5763" fill-opacity="0.9" stroke="#0d1114" stroke-width="0.9"/>
<circle cx="257.17" cy="230.68" r="2.25" fill="#4a5763" fill-opacity="0.9" stroke="#0d1114" stroke-width="0.9"/>
<circle cx="253.50" cy="228.21" r="2.25" fill="#4a5763" fill-opacity="0.9" stroke="#0d1114" stroke-width="0.9"/>
<circle cx="249.14" cy="233.35" r="2.25" fill="#4a5763" fill-opacity="0.9" stroke="#0d1114" stroke-width="0.9"/>
<circle cx="232.90" cy="222.40" r="2.25" fill="#4a5763" fill-opacity="0.9" stroke="#0d1114" stroke-width="0.9"/>
<circle cx="255.23" cy="225.05" r="2.25" fill="#4a5763" fill-opacity="0.9" stroke="#0d1114" stroke-width="0.9"/>
<circle cx="259.13" cy="226.33" r="2.25" fill="#4a5763" fill-opacity="0.9" stroke="#0d1114" stroke-width="0.9"/>
<circle cx="234.83" cy="236.53" r="2.25" fill="#4a5763" fill-opacity="0.9" stroke="#0d1114" stroke-width="0.9"/>
<circle cx="240.25" cy="216.35" r="2.25" fill="#4a5763" fill-opacity="0.9" stroke="#0d1114" stroke-width="0.9"/>
<circle cx="240.73" cy="230.51" r="2.25" fill="#4a5763" fill-opacity="0.9" stroke="#0d1114" stroke-width="0.9"/>
<circle cx="243.19" cy="227.84" r="2.25" fill="#4a5763" fill-opacity="0.9" stroke="#0d1114" stroke-width="0.9"/>
<circle cx="260.74" cy="235.85" r="2.25" fill="#4a5763" fill-opacity="0.9" stroke="#0d1114" stroke-width="0.9"/>
<circle cx="251.91" cy="213.84" r="2.25" fill="#4a5763" fill-opacity="0.9" stroke="#0d1114" stroke-width="0.9"/>
<circle cx="236.37" cy="225.46" r="2.25" fill="#4a5763" fill-opacity="0.9" stroke="#0d1114" stroke-width="0.9"/>
<circle cx="244.06" cy="218.92" r="2.25" fill="#4a5763" fill-opacity="0.9" stroke="#0d1114" stroke-width="0.9"/>
<circle cx="259.80" cy="222.78" r="2.25" fill="#4a5763" fill-opacity="0.9" stroke="#0d1114" stroke-width="0.9"/>
<circle cx="249.98" cy="229.04" r="2.25" fill="#4a5763" fill-opacity="0.9" stroke="#0d1114" stroke-width="0.9"/>
<circle cx="246.65" cy="238.95" r="2.25" fill="#4a5763" fill-opacity="0.9" stroke="#0d1114" stroke-width="0.9"/>
<circle cx="253.40" cy="232.21" r="2.25" fill="#4a5763" fill-opacity="0.9" stroke="#0d1114" stroke-width="0.9"/>
<circle cx="241.64" cy="208.36" r="2.25" fill="#4a5763" fill-opacity="0.9" stroke="#0d1114" stroke-width="0.9"/>
<circle cx="241.07" cy="224.21" r="2.25" fill="#4a5763" fill-opacity="0.9" stroke="#0d1114" stroke-width="0.9"/>
<circle cx="238.92" cy="234.44" r="2.25" fill="#4a5763" fill-opacity="0.9" stroke="#0d1114" stroke-width="0.9"/>
<circle cx="256.32" cy="234.51" r="2.25" fill="#4a5763" fill-opacity="0.9" stroke="#0d1114" stroke-width="0.9"/>
<circle cx="239.83" cy="238.33" r="2.25" fill="#4a5763" fill-opacity="0.9" stroke="#0d1114" stroke-width="0.9"/>
<circle cx="251.86" cy="237.38" r="2.25" fill="#4a5763" fill-opacity="0.9" stroke="#0d1114" stroke-width="0.9"/>
<circle cx="256.25" cy="238.18" r="2.25" fill="#4a5763" fill-opacity="0.9" stroke="#0d1114" stroke-width="0.9"/>
<circle cx="253.72" cy="217.89" r="2.25" fill="#4a5763" fill-opacity="0.9" stroke="#0d1114" stroke-width="0.9"/>
<circle cx="232.05" cy="233.78" r="2.25" fill="#4a5763" fill-opacity="0.9" stroke="#0d1114" stroke-width="0.9"/>
<circle cx="251.54" cy="241.13" r="2.25" fill="#4a5763" fill-opacity="0.9" stroke="#0d1114" stroke-width="0.9"/>
<circle cx="246.54" cy="213.70" r="2.25" fill="#4a5763" fill-opacity="0.9" stroke="#0d1114" stroke-width="0.9"/>
<path d="M304.90,187.60 L304.83,188.12 L304.77,188.65 L304.70,189.17 L304.63,189.70 L304.57,190.22 L304.50,190.75 L304.43,191.27 L304.36,191.79 L304.29,192.32 L304.23,192.84 L304.16,193.37 L304.09,193.89 L304.02,194.42 L303.95,194.94 L303.88,195.47 L303.82,195.99 L303.76,196.51 L303.71,197.04 L303.65,197.56 L303.59,198.09 L303.53,198.61 L303.45,199.14 L303.36,199.66 L303.25,200.18 L303.10,200.71 L302.82,201.23 L302.45,201.76 L302.00,202.28 L301.51,202.81 L301.02,203.33 L300.55,203.86 L300.09,204.38 L299.61,204.90 L299.11,205.43 L298.59,205.95 L298.06,206.48 L297.52,207.00 L296.97,207.53 L296.41,208.05 L295.85,208.57 L295.28,209.10 L294.70,209.62 L294.10,210.15 L293.48,210.67 L292.86,211.20 L292.23,211.72 L291.59,212.25 L290.96,212.77 L290.33,213.29 L289.71,213.82 L289.10,214.34 L288.48,214.87 L287.85,215.39 L287.23,215.92 L286.60,216.44 L285.99,216.96 L285.38,217.49 L284.78,218.01 L284.20,218.54 L283.64,219.06 L283.08,219.59 L282.47,220.11 L281.83,220.64 L281.18,221.16 L280.53,221.68 L279.91,222.21 L279.34,222.73 L278.84,223.26 L278.43,223.78 L278.12,224.31 L277.94,224.83 L277.91,225.35 L278.11,225.88 L278.53,226.40 L279.13,226.93 L279.85,227.45 L280.65,227.98 L281.49,228.50 L282.33,229.03 L283.13,229.55 L284.00,230.07 L284.97,230.60 L286.01,231.12 L287.10,231.65 L288.20,232.17 L289.28,232.70 L290.32,233.22 L291.28,233.74 L292.20,234.27 L293.12,234.79 L294.03,235.32 L294.91,235.84 L295.76,236.37 L296.57,236.89 L297.33,237.42 L298.02,237.94 L298.68,238.46 L299.33,238.99 L299.98,239.51 L300.60,240.04 L301.19,240.56 L301.74,241.09 L302.23,241.61 L302.65,242.13 L302.99,242.66 L303.23,243.18 L303.44,243.71 L303.64,244.23 L303.84,244.76 L304.02,245.28 L304.19,245.81 L304.34,246.33 L304.48,246.85 L304.60,247.38 L304.71,247.90 L304.79,248.43 L304.85,248.95 L304.89,249.48 L304.90,250.00 L304.90,250.00 L304.91,249.48 L304.95,248.95 L305.01,248.43 L305.09,247.90 L305.20,247.38 L305.32,246.85 L305.46,246.33 L305.61,245.81 L305.78,245.28 L305.96,244.76 L306.16,244.23 L306.36,243.71 L306.57,243.18 L306.81,242.66 L307.15,242.13 L307.57,241.61 L308.06,241.09 L308.61,240.56 L309.20,240.04 L309.82,239.51 L310.47,238.99 L311.12,238.46 L311.78,237.94 L312.47,237.42 L313.23,236.89 L314.04,236.37 L314.89,235.84 L315.77,235.32 L316.68,234.79 L317.60,234.27 L318.52,233.74 L319.48,233.22 L320.52,232.70 L321.60,232.17 L322.70,231.65 L323.79,231.12 L324.83,230.60 L325.80,230.07 L326.67,229.55 L327.47,229.03 L328.31,228.50 L329.15,227.98 L329.95,227.45 L330.67,226.93 L331.27,226.40 L331.69,225.88 L331.89,225.35 L331.86,224.83 L331.68,224.31 L331.37,223.78 L330.96,223.26 L330.46,222.73 L329.89,222.21 L329.27,221.68 L328.62,221.16 L327.97,220.64 L327.33,220.11 L326.72,219.59 L326.16,219.06 L325.60,218.54 L325.02,218.01 L324.42,217.49 L323.81,216.96 L323.20,216.44 L322.57,215.92 L321.95,215.39 L321.32,214.87 L320.70,214.34 L320.09,213.82 L319.47,213.29 L318.84,212.77 L318.21,212.25 L317.57,211.72 L316.94,211.20 L316.32,210.67 L315.70,210.15 L315.10,209.62 L314.52,209.10 L313.95,208.57 L313.39,208.05 L312.83,207.53 L312.28,207.00 L311.74,206.48 L311.21,205.95 L310.69,205.43 L310.19,204.90 L309.71,204.38 L309.25,203.86 L308.78,203.33 L308.29,202.81 L307.80,202.28 L307.35,201.76 L306.98,201.23 L306.70,200.71 L306.55,200.18 L306.44,199.66 L306.35,199.14 L306.27,198.61 L306.21,198.09 L306.15,197.56 L306.09,197.04 L306.04,196.51 L305.98,195.99 L305.92,195.47 L305.85,194.94 L305.78,194.42 L305.71,193.89 L305.64,193.37 L305.57,192.84 L305.51,192.32 L305.44,191.79 L305.37,191.27 L305.30,190.75 L305.23,190.22 L305.17,189.70 L305.10,189.17 L305.03,188.65 L304.97,188.12 L304.90,187.60Z" fill="#eca232" stroke="#c57f15" stroke-width="1.0"/>
<rect x="281.80" y="218.30" width="46.20" height="9.40" fill="#e0921f" fill-opacity="0.75" stroke="#b97510" stroke-width="0.7"/>
<line x1="281.80" y1="224.00" x2="328.00" y2="224.00" stroke="#b97510" stroke-width="0.8"/>
<circle cx="293.79" cy="217.08" r="2.25" fill="#9a6526" fill-opacity="0.85" stroke="#2e1903" stroke-width="0.9"/>
<circle cx="295.18" cy="221.31" r="2.25" fill="#9a6526" fill-opacity="0.85" stroke="#2e1903" stroke-width="0.9"/>
<circle cx="302.39" cy="210.83" r="2.25" fill="#9a6526" fill-opacity="0.85" stroke="#2e1903" stroke-width="0.9"/>
<circle cx="310.91" cy="234.92" r="2.25" fill="#9a6526" fill-opacity="0.85" stroke="#2e1903" stroke-width="0.9"/>
<circle cx="296.99" cy="229.61" r="2.25" fill="#9a6526" fill-opacity="0.85" stroke="#2e1903" stroke-width="0.9"/>
<circle cx="298.47" cy="224.43" r="2.25" fill="#9a6526" fill-opacity="0.85" stroke="#2e1903" stroke-width="0.9"/>
<circle cx="316.04" cy="216.42" r="2.25" fill="#9a6526" fill-opacity="0.85" stroke="#2e1903" stroke-width="0.9"/>
<circle cx="312.78" cy="231.44" r="2.25" fill="#9a6526" fill-opacity="0.85" stroke="#2e1903" stroke-width="0.9"/>
<circle cx="307.93" cy="219.15" r="2.25" fill="#9a6526" fill-opacity="0.85" stroke="#2e1903" stroke-width="0.9"/>
<circle cx="293.83" cy="233.24" r="2.25" fill="#9a6526" fill-opacity="0.85" stroke="#2e1903" stroke-width="0.9"/>
<circle cx="309.14" cy="225.89" r="2.25" fill="#9a6526" fill-opacity="0.85" stroke="#2e1903" stroke-width="0.9"/>
<circle cx="306.13" cy="234.48" r="2.25" fill="#9a6526" fill-opacity="0.85" stroke="#2e1903" stroke-width="0.9"/>
<circle cx="302.18" cy="223.82" r="2.25" fill="#9a6526" fill-opacity="0.85" stroke="#2e1903" stroke-width="0.9"/>
<circle cx="299.24" cy="214.68" r="2.25" fill="#9a6526" fill-opacity="0.85" stroke="#2e1903" stroke-width="0.9"/>
<circle cx="306.98" cy="209.79" r="2.25" fill="#9a6526" fill-opacity="0.85" stroke="#2e1903" stroke-width="0.9"/>
<circle cx="302.27" cy="242.19" r="2.25" fill="#9a6526" fill-opacity="0.85" stroke="#2e1903" stroke-width="0.9"/>
<circle cx="307.62" cy="229.61" r="2.25" fill="#9a6526" fill-opacity="0.85" stroke="#2e1903" stroke-width="0.9"/>
<circle cx="303.39" cy="215.23" r="2.25" fill="#9a6526" fill-opacity="0.85" stroke="#2e1903" stroke-width="0.9"/>
<circle cx="315.43" cy="233.90" r="2.25" fill="#9a6526" fill-opacity="0.85" stroke="#2e1903" stroke-width="0.9"/>
<circle cx="316.92" cy="228.84" r="2.25" fill="#9a6526" fill-opacity="0.85" stroke="#2e1903" stroke-width="0.9"/>
<circle cx="308.42" cy="237.98" r="2.25" fill="#9a6526" fill-opacity="0.85" stroke="#2e1903" stroke-width="0.9"/>
<circle cx="316.47" cy="221.65" r="2.25" fill="#9a6526" fill-opacity="0.85" stroke="#2e1903" stroke-width="0.9"/>
<circle cx="313.08" cy="226.20" r="2.25" fill="#9a6526" fill-opacity="0.85" stroke="#2e1903" stroke-width="0.9"/>
<circle cx="291.25" cy="219.71" r="2.25" fill="#9a6526" fill-opacity="0.85" stroke="#2e1903" stroke-width="0.9"/>
<circle cx="298.07" cy="209.71" r="2.25" fill="#9a6526" fill-opacity="0.85" stroke="#2e1903" stroke-width="0.9"/>
<circle cx="300.79" cy="230.12" r="2.25" fill="#9a6526" fill-opacity="0.85" stroke="#2e1903" stroke-width="0.9"/>
<circle cx="297.78" cy="237.21" r="2.25" fill="#9a6526" fill-opacity="0.85" stroke="#2e1903" stroke-width="0.9"/>
<circle cx="292.20" cy="227.26" r="2.25" fill="#9a6526" fill-opacity="0.85" stroke="#2e1903" stroke-width="0.9"/>
<circle cx="309.91" cy="207.60" r="2.25" fill="#9a6526" fill-opacity="0.85" stroke="#2e1903" stroke-width="0.9"/>
<circle cx="312.56" cy="221.92" r="2.25" fill="#9a6526" fill-opacity="0.85" stroke="#2e1903" stroke-width="0.9"/>
<circle cx="301.51" cy="234.16" r="2.25" fill="#9a6526" fill-opacity="0.85" stroke="#2e1903" stroke-width="0.9"/>
<circle cx="308.66" cy="215.31" r="2.25" fill="#9a6526" fill-opacity="0.85" stroke="#2e1903" stroke-width="0.9"/>
<circle cx="299.12" cy="219.59" r="2.25" fill="#9a6526" fill-opacity="0.85" stroke="#2e1903" stroke-width="0.9"/>
<circle cx="307.52" cy="241.98" r="2.25" fill="#9a6526" fill-opacity="0.85" stroke="#2e1903" stroke-width="0.9"/>
<circle cx="314.69" cy="210.89" r="2.25" fill="#9a6526" fill-opacity="0.85" stroke="#2e1903" stroke-width="0.9"/>
<circle cx="312.34" cy="214.75" r="2.25" fill="#9a6526" fill-opacity="0.85" stroke="#2e1903" stroke-width="0.9"/>
<circle cx="293.32" cy="212.20" r="2.25" fill="#9a6526" fill-opacity="0.85" stroke="#2e1903" stroke-width="0.9"/>
<circle cx="305.23" cy="225.87" r="2.25" fill="#9a6526" fill-opacity="0.85" stroke="#2e1903" stroke-width="0.9"/>
<circle cx="304.40" cy="197.30" r="2.25" fill="#9a6526" fill-opacity="0.85" stroke="#2e1903" stroke-width="0.9"/>
<circle cx="309.70" cy="208.60" r="2.25" fill="#9a6526" fill-opacity="0.85" stroke="#2e1903" stroke-width="0.9"/>
<path d="M245.7,197.2 L245.7,195.5 L304.6,195.5" fill="none" stroke="#231f20" stroke-width="0.9"/>
<circle cx="275.8" cy="191.3" r="1.05" fill="#231f20"/>
<text x="354.00" y="167.60" font-size="10.8" text-anchor="start" fill="#111" font-weight="bold" stroke="#111" stroke-width="0.4">G</text>
<text x="449.00" y="178.10" font-size="8.75" text-anchor="middle" fill="#1e1e1e" font-weight="normal" >Clauss by Coag. at_ED</text>
<line x1="384.50" y1="184.00" x2="384.50" y2="254.00" stroke="#231f20" stroke-width="1.1" />
<line x1="384.00" y1="253.50" x2="513.50" y2="253.50" stroke="#231f20" stroke-width="1.1" />
<line x1="381.50" y1="187.54" x2="384.50" y2="187.54" stroke="#231f20" stroke-width="1" />
<text x="378.90" y="190.29" font-size="7.9" text-anchor="end" fill="#1e1e1e" font-weight="normal" >600</text>
<line x1="381.50" y1="207.46" x2="384.50" y2="207.46" stroke="#231f20" stroke-width="1" />
<text x="378.90" y="210.21" font-size="7.9" text-anchor="end" fill="#1e1e1e" font-weight="normal" >400</text>
<line x1="381.50" y1="227.38" x2="384.50" y2="227.38" stroke="#231f20" stroke-width="1" />
<text x="378.90" y="230.13" font-size="7.9" text-anchor="end" fill="#1e1e1e" font-weight="normal" >200</text>
<line x1="381.50" y1="247.30" x2="384.50" y2="247.30" stroke="#231f20" stroke-width="1" />
<text x="378.90" y="250.05" font-size="7.9" text-anchor="end" fill="#1e1e1e" font-weight="normal" >0</text>
<line x1="419.40" y1="253.50" x2="419.40" y2="256.10" stroke="#231f20" stroke-width="0.9" />
<text x="419.40" y="265.75" font-size="7.45" text-anchor="middle" fill="#1e1e1e" font-weight="normal" >Coag.</text>
<line x1="478.25" y1="253.50" x2="478.25" y2="256.10" stroke="#231f20" stroke-width="0.9" />
<text x="478.25" y="265.75" font-size="7.45" text-anchor="middle" fill="#1e1e1e" font-weight="normal" >Not Coag.</text>
<path d="M419.30,200.10 L419.15,200.50 L419.00,200.90 L418.85,201.29 L418.72,201.69 L418.59,202.09 L418.46,202.49 L418.35,202.89 L418.23,203.29 L418.13,203.68 L418.03,204.08 L417.94,204.48 L417.86,204.88 L417.79,205.28 L417.71,205.68 L417.64,206.07 L417.56,206.47 L417.50,206.87 L417.45,207.27 L417.41,207.67 L417.40,208.07 L417.42,208.46 L417.48,208.86 L417.57,209.26 L417.69,209.66 L417.82,210.06 L417.95,210.46 L418.09,210.85 L418.20,211.25 L418.30,211.65 L418.37,212.05 L418.40,212.45 L418.40,212.85 L418.39,213.24 L418.37,213.64 L418.35,214.04 L418.32,214.44 L418.29,214.84 L418.26,215.24 L418.22,215.63 L418.19,216.03 L418.15,216.43 L418.11,216.83 L418.06,217.23 L418.01,217.63 L417.96,218.02 L417.89,218.42 L417.82,218.82 L417.74,219.22 L417.66,219.62 L417.58,220.02 L417.49,220.41 L417.39,220.81 L417.30,221.21 L417.20,221.61 L417.11,222.01 L417.01,222.41 L416.90,222.80 L416.77,223.20 L416.61,223.60 L416.41,224.00 L416.15,224.40 L415.64,224.80 L414.91,225.19 L414.04,225.59 L413.07,225.99 L412.07,226.39 L410.83,226.79 L409.35,227.19 L407.78,227.58 L406.23,227.98 L404.86,228.38 L403.63,228.78 L402.43,229.18 L401.25,229.58 L400.13,229.97 L399.06,230.37 L398.07,230.77 L397.17,231.17 L396.37,231.57 L395.56,231.97 L394.75,232.36 L394.04,232.76 L393.52,233.16 L393.30,233.56 L393.40,233.96 L393.73,234.36 L394.24,234.75 L394.89,235.15 L395.65,235.55 L396.46,235.95 L397.29,236.35 L398.09,236.75 L398.98,237.14 L400.03,237.54 L401.18,237.94 L402.39,238.34 L403.61,238.74 L404.81,239.14 L405.92,239.53 L406.92,239.93 L407.88,240.33 L408.84,240.73 L409.76,241.13 L410.65,241.53 L411.50,241.92 L412.28,242.32 L413.00,242.72 L413.64,243.12 L414.22,243.52 L414.75,243.92 L415.25,244.31 L415.73,244.71 L416.20,245.11 L416.68,245.51 L417.18,245.91 L417.70,246.31 L418.23,246.70 L418.76,247.10 L419.30,247.50 L419.30,247.50 L419.84,247.10 L420.37,246.70 L420.90,246.31 L421.42,245.91 L421.92,245.51 L422.40,245.11 L422.87,244.71 L423.35,244.31 L423.85,243.92 L424.38,243.52 L424.96,243.12 L425.60,242.72 L426.32,242.32 L427.10,241.92 L427.95,241.53 L428.84,241.13 L429.76,240.73 L430.72,240.33 L431.68,239.93 L432.68,239.53 L433.79,239.14 L434.99,238.74 L436.21,238.34 L437.42,237.94 L438.57,237.54 L439.62,237.14 L440.51,236.75 L441.31,236.35 L442.14,235.95 L442.95,235.55 L443.71,235.15 L444.36,234.75 L444.87,234.36 L445.20,233.96 L445.30,233.56 L445.08,233.16 L444.56,232.76 L443.85,232.36 L443.04,231.97 L442.23,231.57 L441.43,231.17 L440.53,230.77 L439.54,230.37 L438.47,229.97 L437.35,229.58 L436.17,229.18 L434.97,228.78 L433.74,228.38 L432.37,227.98 L430.82,227.58 L429.25,227.19 L427.77,226.79 L426.53,226.39 L425.53,225.99 L424.56,225.59 L423.69,225.19 L422.96,224.80 L422.45,224.40 L422.19,224.00 L421.99,223.60 L421.83,223.20 L421.70,222.80 L421.59,222.41 L421.49,222.01 L421.40,221.61 L421.30,221.21 L421.21,220.81 L421.11,220.41 L421.02,220.02 L420.94,219.62 L420.86,219.22 L420.78,218.82 L420.71,218.42 L420.64,218.02 L420.59,217.63 L420.54,217.23 L420.49,216.83 L420.45,216.43 L420.41,216.03 L420.38,215.63 L420.34,215.24 L420.31,214.84 L420.28,214.44 L420.25,214.04 L420.23,213.64 L420.21,213.24 L420.20,212.85 L420.20,212.45 L420.23,212.05 L420.30,211.65 L420.40,211.25 L420.51,210.85 L420.65,210.46 L420.78,210.06 L420.91,209.66 L421.03,209.26 L421.12,208.86 L421.18,208.46 L421.20,208.07 L421.19,207.67 L421.15,207.27 L421.10,206.87 L421.04,206.47 L420.96,206.07 L420.89,205.68 L420.81,205.28 L420.74,204.88 L420.66,204.48 L420.57,204.08 L420.47,203.68 L420.37,203.29 L420.25,202.89 L420.14,202.49 L420.01,202.09 L419.88,201.69 L419.75,201.29 L419.60,200.90 L419.45,200.50 L419.30,200.10Z" fill="#b8b5e3" stroke="#7873bd" stroke-width="1.0"/>
<rect x="397.00" y="230.00" width="45.20" height="7.30" fill="#9f9ad6" fill-opacity="0.75" stroke="#7873bd" stroke-width="0.7"/>
<line x1="397.00" y1="234.00" x2="442.20" y2="234.00" stroke="#7873bd" stroke-width="0.8"/>
<circle cx="425.51" cy="235.37" r="2.25" fill="#a09cd0" fill-opacity="0.75" stroke="#1c1845" stroke-width="0.9"/>
<circle cx="431.33" cy="237.87" r="2.25" fill="#a09cd0" fill-opacity="0.75" stroke="#1c1845" stroke-width="0.9"/>
<circle cx="418.10" cy="225.56" r="2.25" fill="#a09cd0" fill-opacity="0.75" stroke="#1c1845" stroke-width="0.9"/>
<circle cx="421.14" cy="241.30" r="2.25" fill="#a09cd0" fill-opacity="0.75" stroke="#1c1845" stroke-width="0.9"/>
<circle cx="409.93" cy="240.05" r="2.25" fill="#a09cd0" fill-opacity="0.75" stroke="#1c1845" stroke-width="0.9"/>
<circle cx="411.15" cy="233.49" r="2.25" fill="#a09cd0" fill-opacity="0.75" stroke="#1c1845" stroke-width="0.9"/>
<circle cx="420.64" cy="234.38" r="2.25" fill="#a09cd0" fill-opacity="0.75" stroke="#1c1845" stroke-width="0.9"/>
<circle cx="430.57" cy="231.09" r="2.25" fill="#a09cd0" fill-opacity="0.75" stroke="#1c1845" stroke-width="0.9"/>
<circle cx="407.67" cy="235.30" r="2.25" fill="#a09cd0" fill-opacity="0.75" stroke="#1c1845" stroke-width="0.9"/>
<circle cx="421.38" cy="223.12" r="2.25" fill="#a09cd0" fill-opacity="0.75" stroke="#1c1845" stroke-width="0.9"/>
<circle cx="413.91" cy="239.87" r="2.25" fill="#a09cd0" fill-opacity="0.75" stroke="#1c1845" stroke-width="0.9"/>
<circle cx="406.19" cy="228.96" r="2.25" fill="#a09cd0" fill-opacity="0.75" stroke="#1c1845" stroke-width="0.9"/>
<circle cx="417.94" cy="238.27" r="2.25" fill="#a09cd0" fill-opacity="0.75" stroke="#1c1845" stroke-width="0.9"/>
<circle cx="417.96" cy="231.58" r="2.25" fill="#a09cd0" fill-opacity="0.75" stroke="#1c1845" stroke-width="0.9"/>
<circle cx="414.74" cy="223.95" r="2.25" fill="#a09cd0" fill-opacity="0.75" stroke="#1c1845" stroke-width="0.9"/>
<circle cx="425.92" cy="229.84" r="2.25" fill="#a09cd0" fill-opacity="0.75" stroke="#1c1845" stroke-width="0.9"/>
<circle cx="427.01" cy="240.85" r="2.25" fill="#a09cd0" fill-opacity="0.75" stroke="#1c1845" stroke-width="0.9"/>
<circle cx="424.41" cy="225.96" r="2.25" fill="#a09cd0" fill-opacity="0.75" stroke="#1c1845" stroke-width="0.9"/>
<circle cx="414.91" cy="227.80" r="2.25" fill="#a09cd0" fill-opacity="0.75" stroke="#1c1845" stroke-width="0.9"/>
<circle cx="411.28" cy="227.47" r="2.25" fill="#a09cd0" fill-opacity="0.75" stroke="#1c1845" stroke-width="0.9"/>
<circle cx="416.79" cy="242.44" r="2.25" fill="#a09cd0" fill-opacity="0.75" stroke="#1c1845" stroke-width="0.9"/>
<circle cx="421.68" cy="228.49" r="2.25" fill="#a09cd0" fill-opacity="0.75" stroke="#1c1845" stroke-width="0.9"/>
<circle cx="410.10" cy="207.40" r="2.25" fill="#9e9bb0" fill-opacity="0.75" stroke="#1c1845" stroke-width="0.9"/>
<circle cx="415.20" cy="217.60" r="2.25" fill="#9e9bb0" fill-opacity="0.75" stroke="#1c1845" stroke-width="0.9"/>
<path d="M478.40,185.60 L478.33,186.15 L478.27,186.69 L478.20,187.24 L478.14,187.79 L478.07,188.34 L478.01,188.88 L477.95,189.43 L477.89,189.98 L477.83,190.52 L477.77,191.07 L477.71,191.62 L477.65,192.16 L477.59,192.71 L477.54,193.26 L477.48,193.81 L477.43,194.35 L477.38,194.90 L477.34,195.45 L477.30,195.99 L477.26,196.54 L477.21,197.09 L477.15,197.64 L477.09,198.18 L477.01,198.73 L476.91,199.28 L476.79,199.82 L476.63,200.37 L476.43,200.92 L476.21,201.46 L475.95,202.01 L475.63,202.56 L475.13,203.11 L474.47,203.65 L473.71,204.20 L472.92,204.75 L472.15,205.29 L471.47,205.84 L470.86,206.39 L470.25,206.94 L469.65,207.48 L469.08,208.03 L468.56,208.58 L468.10,209.12 L467.71,209.67 L467.32,210.22 L466.94,210.76 L466.56,211.31 L466.21,211.86 L465.89,212.41 L465.62,212.95 L465.41,213.50 L465.26,214.05 L465.20,214.59 L465.20,215.14 L465.20,215.69 L465.20,216.24 L465.20,216.78 L465.20,217.33 L465.20,217.88 L465.20,218.42 L465.20,218.97 L465.20,219.52 L465.20,220.06 L465.20,220.61 L465.20,221.16 L465.20,221.71 L465.20,222.25 L465.20,222.80 L465.20,223.35 L465.20,223.89 L465.20,224.44 L465.20,224.99 L465.22,225.54 L465.36,226.08 L465.59,226.63 L465.91,227.18 L466.30,227.72 L466.74,228.27 L467.21,228.82 L467.69,229.36 L468.21,229.91 L468.90,230.46 L469.72,231.01 L470.62,231.55 L471.54,232.10 L472.43,232.65 L473.23,233.19 L474.08,233.74 L474.97,234.29 L475.78,234.84 L476.37,235.38 L476.63,235.93 L476.76,236.48 L476.87,237.02 L476.97,237.57 L477.04,238.12 L477.11,238.66 L477.17,239.21 L477.22,239.76 L477.27,240.31 L477.31,240.85 L477.36,241.40 L477.41,241.95 L477.46,242.49 L477.53,243.04 L477.59,243.59 L477.66,244.14 L477.72,244.68 L477.79,245.23 L477.85,245.78 L477.92,246.32 L477.98,246.87 L478.04,247.42 L478.10,247.96 L478.16,248.51 L478.22,249.06 L478.28,249.61 L478.34,250.15 L478.40,250.70 L478.40,250.70 L478.46,250.15 L478.52,249.61 L478.58,249.06 L478.64,248.51 L478.70,247.96 L478.76,247.42 L478.82,246.87 L478.88,246.32 L478.95,245.78 L479.01,245.23 L479.08,244.68 L479.14,244.14 L479.21,243.59 L479.27,243.04 L479.34,242.49 L479.39,241.95 L479.44,241.40 L479.49,240.85 L479.53,240.31 L479.58,239.76 L479.63,239.21 L479.69,238.66 L479.76,238.12 L479.83,237.57 L479.93,237.02 L480.04,236.48 L480.17,235.93 L480.43,235.38 L481.02,234.84 L481.83,234.29 L482.72,233.74 L483.57,233.19 L484.37,232.65 L485.26,232.10 L486.18,231.55 L487.08,231.01 L487.90,230.46 L488.59,229.91 L489.11,229.36 L489.59,228.82 L490.06,228.27 L490.50,227.72 L490.89,227.18 L491.21,226.63 L491.44,226.08 L491.58,225.54 L491.60,224.99 L491.60,224.44 L491.60,223.89 L491.60,223.35 L491.60,222.80 L491.60,222.25 L491.60,221.71 L491.60,221.16 L491.60,220.61 L491.60,220.06 L491.60,219.52 L491.60,218.97 L491.60,218.42 L491.60,217.88 L491.60,217.33 L491.60,216.78 L491.60,216.24 L491.60,215.69 L491.60,215.14 L491.60,214.59 L491.54,214.05 L491.39,213.50 L491.18,212.95 L490.91,212.41 L490.59,211.86 L490.24,211.31 L489.86,210.76 L489.48,210.22 L489.09,209.67 L488.70,209.12 L488.24,208.58 L487.72,208.03 L487.15,207.48 L486.55,206.94 L485.94,206.39 L485.33,205.84 L484.65,205.29 L483.88,204.75 L483.09,204.20 L482.33,203.65 L481.67,203.11 L481.17,202.56 L480.85,202.01 L480.59,201.46 L480.37,200.92 L480.17,200.37 L480.01,199.82 L479.89,199.28 L479.79,198.73 L479.71,198.18 L479.65,197.64 L479.59,197.09 L479.54,196.54 L479.50,195.99 L479.46,195.45 L479.42,194.90 L479.37,194.35 L479.32,193.81 L479.26,193.26 L479.21,192.71 L479.15,192.16 L479.09,191.62 L479.03,191.07 L478.97,190.52 L478.91,189.98 L478.85,189.43 L478.79,188.88 L478.73,188.34 L478.66,187.79 L478.60,187.24 L478.53,186.69 L478.47,186.15 L478.40,185.60Z" fill="#e92a8f" stroke="#d6127b" stroke-width="1.0"/>
<rect x="455.90" y="216.40" width="44.90" height="11.40" fill="#ee5aa6" fill-opacity="0.75" stroke="#d0107a" stroke-width="0.7"/>
<line x1="455.90" y1="222.00" x2="500.80" y2="222.00" stroke="#d0107a" stroke-width="0.8"/>
<circle cx="485.43" cy="226.78" r="2.25" fill="#cf2480" fill-opacity="0.8" stroke="#50062e" stroke-width="0.9"/>
<circle cx="472.33" cy="218.90" r="2.25" fill="#cf2480" fill-opacity="0.8" stroke="#50062e" stroke-width="0.9"/>
<circle cx="479.73" cy="204.00" r="2.25" fill="#cf2480" fill-opacity="0.8" stroke="#50062e" stroke-width="0.9"/>
<circle cx="484.18" cy="218.52" r="2.25" fill="#cf2480" fill-opacity="0.8" stroke="#50062e" stroke-width="0.9"/>
<circle cx="485.09" cy="213.48" r="2.25" fill="#cf2480" fill-opacity="0.8" stroke="#50062e" stroke-width="0.9"/>
<circle cx="475.95" cy="225.14" r="2.25" fill="#cf2480" fill-opacity="0.8" stroke="#50062e" stroke-width="0.9"/>
<circle cx="479.17" cy="211.34" r="2.25" fill="#cf2480" fill-opacity="0.8" stroke="#50062e" stroke-width="0.9"/>
<circle cx="472.65" cy="227.09" r="2.25" fill="#cf2480" fill-opacity="0.8" stroke="#50062e" stroke-width="0.9"/>
<circle cx="483.49" cy="208.23" r="2.25" fill="#cf2480" fill-opacity="0.8" stroke="#50062e" stroke-width="0.9"/>
<circle cx="472.46" cy="208.25" r="2.25" fill="#cf2480" fill-opacity="0.8" stroke="#50062e" stroke-width="0.9"/>
<circle cx="473.03" cy="222.72" r="2.25" fill="#cf2480" fill-opacity="0.8" stroke="#50062e" stroke-width="0.9"/>
<circle cx="479.31" cy="231.89" r="2.25" fill="#cf2480" fill-opacity="0.8" stroke="#50062e" stroke-width="0.9"/>
<circle cx="488.30" cy="215.72" r="2.25" fill="#cf2480" fill-opacity="0.8" stroke="#50062e" stroke-width="0.9"/>
<circle cx="482.71" cy="222.96" r="2.25" fill="#cf2480" fill-opacity="0.8" stroke="#50062e" stroke-width="0.9"/>
<circle cx="476.07" cy="205.57" r="2.25" fill="#cf2480" fill-opacity="0.8" stroke="#50062e" stroke-width="0.9"/>
<circle cx="468.23" cy="221.55" r="2.25" fill="#cf2480" fill-opacity="0.8" stroke="#50062e" stroke-width="0.9"/>
<circle cx="470.77" cy="214.49" r="2.25" fill="#cf2480" fill-opacity="0.8" stroke="#50062e" stroke-width="0.9"/>
<circle cx="466.70" cy="226.38" r="2.25" fill="#cf2480" fill-opacity="0.8" stroke="#50062e" stroke-width="0.9"/>
<circle cx="475.36" cy="216.15" r="2.25" fill="#cf2480" fill-opacity="0.8" stroke="#50062e" stroke-width="0.9"/>
<circle cx="487.85" cy="209.35" r="2.25" fill="#cf2480" fill-opacity="0.8" stroke="#50062e" stroke-width="0.9"/>
<circle cx="475.27" cy="233.64" r="2.25" fill="#cf2480" fill-opacity="0.8" stroke="#50062e" stroke-width="0.9"/>
<circle cx="487.27" cy="223.62" r="2.25" fill="#cf2480" fill-opacity="0.8" stroke="#50062e" stroke-width="0.9"/>
<circle cx="468.15" cy="216.96" r="2.25" fill="#cf2480" fill-opacity="0.8" stroke="#50062e" stroke-width="0.9"/>
<circle cx="467.88" cy="210.74" r="2.25" fill="#cf2480" fill-opacity="0.8" stroke="#50062e" stroke-width="0.9"/>
<circle cx="471.28" cy="231.37" r="2.25" fill="#cf2480" fill-opacity="0.8" stroke="#50062e" stroke-width="0.9"/>
<circle cx="478.84" cy="222.81" r="2.25" fill="#cf2480" fill-opacity="0.8" stroke="#50062e" stroke-width="0.9"/>
<circle cx="479.60" cy="226.59" r="2.25" fill="#cf2480" fill-opacity="0.8" stroke="#50062e" stroke-width="0.9"/>
<circle cx="480.23" cy="216.32" r="2.25" fill="#cf2480" fill-opacity="0.8" stroke="#50062e" stroke-width="0.9"/>
<circle cx="484.67" cy="230.56" r="2.25" fill="#cf2480" fill-opacity="0.8" stroke="#50062e" stroke-width="0.9"/>
<circle cx="488.81" cy="219.78" r="2.25" fill="#cf2480" fill-opacity="0.8" stroke="#50062e" stroke-width="0.9"/>
<circle cx="481.59" cy="234.98" r="2.25" fill="#cf2480" fill-opacity="0.8" stroke="#50062e" stroke-width="0.9"/>
<circle cx="473.64" cy="211.81" r="2.25" fill="#cf2480" fill-opacity="0.8" stroke="#50062e" stroke-width="0.9"/>
<circle cx="475.40" cy="230.00" r="2.25" fill="#cf2480" fill-opacity="0.8" stroke="#50062e" stroke-width="0.9"/>
<circle cx="477.21" cy="219.43" r="2.25" fill="#cf2480" fill-opacity="0.8" stroke="#50062e" stroke-width="0.9"/>
<circle cx="472.48" cy="204.45" r="2.25" fill="#cf2480" fill-opacity="0.8" stroke="#50062e" stroke-width="0.9"/>
<circle cx="489.19" cy="227.20" r="2.25" fill="#cf2480" fill-opacity="0.8" stroke="#50062e" stroke-width="0.9"/>
<circle cx="479.17" cy="207.66" r="2.25" fill="#cf2480" fill-opacity="0.8" stroke="#50062e" stroke-width="0.9"/>
<circle cx="476.70" cy="195.30" r="2.25" fill="#cf2480" fill-opacity="0.8" stroke="#50062e" stroke-width="0.9"/>
<circle cx="468.80" cy="236.50" r="2.25" fill="#cf2480" fill-opacity="0.8" stroke="#50062e" stroke-width="0.9"/>
<circle cx="468.80" cy="241.50" r="2.25" fill="#cf2480" fill-opacity="0.8" stroke="#50062e" stroke-width="0.9"/>
<path d="M418.9,195 L418.9,193.5 L477.7,193.5" fill="none" stroke="#231f20" stroke-width="0.9"/>
<circle cx="444.30" cy="189.2" r="0.95" fill="#231f20"/>
<circle cx="447.15" cy="189.2" r="0.95" fill="#231f20"/>
<circle cx="450.00" cy="189.2" r="0.95" fill="#231f20"/>
<circle cx="452.85" cy="189.2" r="0.95" fill="#231f20"/>
<text x="6.00" y="291.60" font-size="10.8" text-anchor="start" fill="#111" font-weight="bold" stroke="#111" stroke-width="0.4">D</text>
<text x="104.80" y="302.10" font-size="8.75" text-anchor="middle" fill="#1e1e1e" font-weight="normal" >MS by Injury at ED</text>
<line x1="48.50" y1="308.00" x2="48.50" y2="377.80" stroke="#231f20" stroke-width="1.1" />
<line x1="48.00" y1="377.30" x2="160.50" y2="377.30" stroke="#231f20" stroke-width="1.1" />
<line x1="45.50" y1="309.00" x2="48.50" y2="309.00" stroke="#231f20" stroke-width="1" />
<text x="42.90" y="311.75" font-size="7.9" text-anchor="end" fill="#1e1e1e" font-weight="normal" >100000</text>
<line x1="45.50" y1="325.88" x2="48.50" y2="325.88" stroke="#231f20" stroke-width="1" />
<text x="42.90" y="328.62" font-size="7.9" text-anchor="end" fill="#1e1e1e" font-weight="normal" >75000</text>
<line x1="45.50" y1="342.75" x2="48.50" y2="342.75" stroke="#231f20" stroke-width="1" />
<text x="42.90" y="345.50" font-size="7.9" text-anchor="end" fill="#1e1e1e" font-weight="normal" >50000</text>
<line x1="45.50" y1="359.62" x2="48.50" y2="359.62" stroke="#231f20" stroke-width="1" />
<text x="42.90" y="362.38" font-size="7.9" text-anchor="end" fill="#1e1e1e" font-weight="normal" >25000</text>
<line x1="45.50" y1="376.50" x2="48.50" y2="376.50" stroke="#231f20" stroke-width="1" />
<text x="42.90" y="379.25" font-size="7.9" text-anchor="end" fill="#1e1e1e" font-weight="normal" >0</text>
<line x1="79.30" y1="377.30" x2="79.30" y2="379.90" stroke="#231f20" stroke-width="0.9" />
<text x="79.30" y="389.55" font-size="7.45" text-anchor="middle" fill="#1e1e1e" font-weight="normal" >HT</text>
<line x1="130.00" y1="377.30" x2="130.00" y2="379.90" stroke="#231f20" stroke-width="0.9" />
<text x="130.00" y="389.55" font-size="7.45" text-anchor="middle" fill="#1e1e1e" font-weight="normal" >LT</text>
<path d="M79.40,311.80 L79.35,312.22 L79.30,312.65 L79.25,313.07 L79.21,313.50 L79.16,313.92 L79.12,314.35 L79.08,314.77 L79.04,315.19 L79.00,315.62 L78.97,316.04 L78.94,316.47 L78.91,316.89 L78.88,317.32 L78.86,317.74 L78.84,318.17 L78.82,318.59 L78.81,319.01 L78.79,319.44 L78.78,319.86 L78.76,320.29 L78.75,320.71 L78.73,321.14 L78.71,321.56 L78.69,321.98 L78.66,322.41 L78.62,322.83 L78.58,323.26 L78.49,323.68 L78.33,324.11 L78.13,324.53 L77.88,324.96 L77.58,325.38 L77.25,325.80 L76.90,326.23 L76.51,326.65 L76.11,327.08 L75.70,327.50 L75.23,327.93 L74.63,328.35 L73.92,328.77 L73.14,329.20 L72.31,329.62 L71.46,330.05 L70.64,330.47 L69.83,330.90 L68.98,331.32 L68.10,331.75 L67.21,332.17 L66.33,332.59 L65.48,333.02 L64.68,333.44 L63.94,333.87 L63.21,334.29 L62.51,334.72 L61.83,335.14 L61.19,335.56 L60.58,335.99 L60.03,336.41 L59.52,336.84 L59.01,337.26 L58.51,337.69 L58.04,338.11 L57.62,338.54 L57.25,338.96 L56.96,339.38 L56.75,339.81 L56.58,340.23 L56.42,340.66 L56.28,341.08 L56.16,341.51 L56.07,341.93 L56.01,342.35 L56.01,342.78 L56.42,343.20 L57.31,343.63 L58.50,344.05 L59.82,344.48 L61.12,344.90 L62.39,345.33 L63.86,345.75 L65.43,346.17 L66.96,346.60 L68.32,347.02 L69.43,347.45 L70.46,347.87 L71.44,348.30 L72.35,348.72 L73.19,349.14 L73.95,349.57 L74.61,349.99 L75.19,350.42 L75.75,350.84 L76.29,351.27 L76.78,351.69 L77.21,352.12 L77.56,352.54 L77.81,352.96 L77.96,353.39 L78.07,353.81 L78.17,354.24 L78.26,354.66 L78.34,355.09 L78.41,355.51 L78.47,355.93 L78.52,356.36 L78.57,356.78 L78.62,357.21 L78.67,357.63 L78.72,358.06 L78.78,358.48 L78.84,358.91 L78.90,359.33 L78.98,359.75 L79.05,360.18 L79.12,360.60 L79.19,361.03 L79.26,361.45 L79.33,361.88 L79.40,362.30 L79.40,362.30 L79.47,361.88 L79.54,361.45 L79.61,361.03 L79.68,360.60 L79.75,360.18 L79.82,359.75 L79.90,359.33 L79.96,358.91 L80.02,358.48 L80.08,358.06 L80.13,357.63 L80.18,357.21 L80.23,356.78 L80.28,356.36 L80.33,355.93 L80.39,355.51 L80.46,355.09 L80.54,354.66 L80.63,354.24 L80.73,353.81 L80.84,353.39 L80.99,352.96 L81.24,352.54 L81.59,352.12 L82.02,351.69 L82.51,351.27 L83.05,350.84 L83.61,350.42 L84.19,349.99 L84.85,349.57 L85.61,349.14 L86.45,348.72 L87.36,348.30 L88.34,347.87 L89.37,347.45 L90.48,347.02 L91.84,346.60 L93.37,346.17 L94.94,345.75 L96.41,345.33 L97.68,344.90 L98.98,344.48 L100.30,344.05 L101.49,343.63 L102.38,343.20 L102.79,342.78 L102.79,342.35 L102.73,341.93 L102.64,341.51 L102.52,341.08 L102.38,340.66 L102.22,340.23 L102.05,339.81 L101.84,339.38 L101.55,338.96 L101.18,338.54 L100.76,338.11 L100.29,337.69 L99.79,337.26 L99.28,336.84 L98.77,336.41 L98.22,335.99 L97.61,335.56 L96.97,335.14 L96.29,334.72 L95.59,334.29 L94.86,333.87 L94.12,333.44 L93.32,333.02 L92.47,332.59 L91.59,332.17 L90.70,331.75 L89.82,331.32 L88.97,330.90 L88.16,330.47 L87.34,330.05 L86.49,329.62 L85.66,329.20 L84.88,328.77 L84.17,328.35 L83.57,327.93 L83.10,327.50 L82.69,327.08 L82.29,326.65 L81.90,326.23 L81.55,325.80 L81.22,325.38 L80.92,324.96 L80.67,324.53 L80.47,324.11 L80.31,323.68 L80.22,323.26 L80.18,322.83 L80.14,322.41 L80.11,321.98 L80.09,321.56 L80.07,321.14 L80.05,320.71 L80.04,320.29 L80.02,319.86 L80.01,319.44 L79.99,319.01 L79.98,318.59 L79.96,318.17 L79.94,317.74 L79.92,317.32 L79.89,316.89 L79.86,316.47 L79.83,316.04 L79.80,315.62 L79.76,315.19 L79.72,314.77 L79.68,314.35 L79.64,313.92 L79.59,313.50 L79.55,313.07 L79.50,312.65 L79.45,312.22 L79.40,311.80Z" fill="#f9bf57" stroke="#ee8f1c" stroke-width="1.0"/>
<rect x="58.30" y="338.20" width="42.20" height="6.80" fill="#f6a838" fill-opacity="0.75" stroke="#e98d1c" stroke-width="0.7"/>
<line x1="58.30" y1="341.50" x2="100.50" y2="341.50" stroke="#e98d1c" stroke-width="0.8"/>
<circle cx="71.47" cy="336.63" r="2.25" fill="#e08420" fill-opacity="0.75" stroke="#4a2503" stroke-width="0.9"/>
<circle cx="69.67" cy="341.92" r="2.25" fill="#e08420" fill-opacity="0.75" stroke="#4a2503" stroke-width="0.9"/>
<circle cx="76.41" cy="340.14" r="2.25" fill="#e08420" fill-opacity="0.75" stroke="#4a2503" stroke-width="0.9"/>
<circle cx="79.62" cy="329.98" r="2.25" fill="#e08420" fill-opacity="0.75" stroke="#4a2503" stroke-width="0.9"/>
<circle cx="72.48" cy="330.48" r="2.25" fill="#e08420" fill-opacity="0.75" stroke="#4a2503" stroke-width="0.9"/>
<circle cx="87.02" cy="338.36" r="2.25" fill="#e08420" fill-opacity="0.75" stroke="#4a2503" stroke-width="0.9"/>
<circle cx="89.80" cy="341.56" r="2.25" fill="#e08420" fill-opacity="0.75" stroke="#4a2503" stroke-width="0.9"/>
<circle cx="74.07" cy="349.66" r="2.25" fill="#e08420" fill-opacity="0.75" stroke="#4a2503" stroke-width="0.9"/>
<circle cx="74.66" cy="345.44" r="2.25" fill="#e08420" fill-opacity="0.75" stroke="#4a2503" stroke-width="0.9"/>
<circle cx="81.38" cy="333.73" r="2.25" fill="#e08420" fill-opacity="0.75" stroke="#4a2503" stroke-width="0.9"/>
<circle cx="84.08" cy="344.19" r="2.25" fill="#e08420" fill-opacity="0.75" stroke="#4a2503" stroke-width="0.9"/>
<circle cx="83.28" cy="339.17" r="2.25" fill="#e08420" fill-opacity="0.75" stroke="#4a2503" stroke-width="0.9"/>
<circle cx="83.74" cy="330.02" r="2.25" fill="#e08420" fill-opacity="0.75" stroke="#4a2503" stroke-width="0.9"/>
<circle cx="87.87" cy="344.65" r="2.25" fill="#e08420" fill-opacity="0.75" stroke="#4a2503" stroke-width="0.9"/>
<circle cx="77.55" cy="335.78" r="2.25" fill="#e08420" fill-opacity="0.75" stroke="#4a2503" stroke-width="0.9"/>
<circle cx="78.93" cy="325.68" r="2.25" fill="#e08420" fill-opacity="0.75" stroke="#4a2503" stroke-width="0.9"/>
<circle cx="82.50" cy="348.36" r="2.25" fill="#e08420" fill-opacity="0.75" stroke="#4a2503" stroke-width="0.9"/>
<circle cx="85.75" cy="333.41" r="2.25" fill="#e08420" fill-opacity="0.75" stroke="#4a2503" stroke-width="0.9"/>
<circle cx="78.70" cy="348.52" r="2.25" fill="#e08420" fill-opacity="0.75" stroke="#4a2503" stroke-width="0.9"/>
<circle cx="78.99" cy="343.45" r="2.25" fill="#e08420" fill-opacity="0.75" stroke="#4a2503" stroke-width="0.9"/>
<circle cx="68.33" cy="332.48" r="2.25" fill="#e08420" fill-opacity="0.75" stroke="#4a2503" stroke-width="0.9"/>
<circle cx="89.91" cy="334.60" r="2.25" fill="#e08420" fill-opacity="0.75" stroke="#4a2503" stroke-width="0.9"/>
<circle cx="87.50" cy="330.25" r="2.25" fill="#e08420" fill-opacity="0.75" stroke="#4a2503" stroke-width="0.9"/>
<circle cx="80.19" cy="351.82" r="2.25" fill="#e08420" fill-opacity="0.75" stroke="#4a2503" stroke-width="0.9"/>
<circle cx="68.50" cy="345.76" r="2.25" fill="#e08420" fill-opacity="0.75" stroke="#4a2503" stroke-width="0.9"/>
<circle cx="86.38" cy="348.53" r="2.25" fill="#e08420" fill-opacity="0.75" stroke="#4a2503" stroke-width="0.9"/>
<circle cx="74.89" cy="333.17" r="2.25" fill="#e08420" fill-opacity="0.75" stroke="#4a2503" stroke-width="0.9"/>
<circle cx="76.09" cy="328.26" r="2.25" fill="#e08420" fill-opacity="0.75" stroke="#4a2503" stroke-width="0.9"/>
<circle cx="82.82" cy="326.46" r="2.25" fill="#e08420" fill-opacity="0.75" stroke="#4a2503" stroke-width="0.9"/>
<circle cx="68.08" cy="338.58" r="2.25" fill="#e08420" fill-opacity="0.75" stroke="#4a2503" stroke-width="0.9"/>
<circle cx="80.20" cy="317.80" r="2.25" fill="#e08420" fill-opacity="0.75" stroke="#4a2503" stroke-width="0.9"/>
<circle cx="71.10" cy="354.00" r="2.25" fill="#e08420" fill-opacity="0.75" stroke="#4a2503" stroke-width="0.9"/>
<circle cx="79.40" cy="355.50" r="2.25" fill="#e08420" fill-opacity="0.75" stroke="#4a2503" stroke-width="0.9"/>
<path d="M129.90,310.60 L129.83,311.13 L129.76,311.66 L129.68,312.19 L129.60,312.72 L129.51,313.26 L129.42,313.79 L129.32,314.32 L129.22,314.85 L129.12,315.38 L129.01,315.91 L128.91,316.44 L128.79,316.97 L128.68,317.50 L128.56,318.04 L128.44,318.57 L128.32,319.10 L128.20,319.63 L128.08,320.16 L127.95,320.69 L127.81,321.22 L127.67,321.75 L127.52,322.28 L127.36,322.82 L127.19,323.35 L127.00,323.88 L126.79,324.41 L126.57,324.94 L126.31,325.47 L125.95,326.00 L125.53,326.53 L125.04,327.06 L124.53,327.59 L124.00,328.13 L123.47,328.66 L122.98,329.19 L122.54,329.72 L122.17,330.25 L121.83,330.78 L121.50,331.31 L121.17,331.84 L120.86,332.37 L120.56,332.91 L120.29,333.44 L120.05,333.97 L119.84,334.50 L119.67,335.03 L119.54,335.56 L119.42,336.09 L119.30,336.62 L119.19,337.15 L119.08,337.69 L118.99,338.22 L118.92,338.75 L118.86,339.28 L118.82,339.81 L118.80,340.34 L118.81,340.87 L118.83,341.40 L118.88,341.93 L118.94,342.47 L119.02,343.00 L119.12,343.53 L119.23,344.06 L119.35,344.59 L119.48,345.12 L119.61,345.65 L119.83,346.18 L120.16,346.71 L120.59,347.25 L121.07,347.78 L121.60,348.31 L122.15,348.84 L122.70,349.37 L123.22,349.90 L123.69,350.43 L124.10,350.96 L124.53,351.49 L124.97,352.03 L125.41,352.56 L125.85,353.09 L126.25,353.62 L126.61,354.15 L126.91,354.68 L127.15,355.21 L127.29,355.74 L127.37,356.27 L127.44,356.81 L127.49,357.34 L127.54,357.87 L127.58,358.40 L127.61,358.93 L127.64,359.46 L127.67,359.99 L127.70,360.52 L127.74,361.05 L127.78,361.58 L127.83,362.12 L127.89,362.65 L127.97,363.18 L128.07,363.71 L128.18,364.24 L128.30,364.77 L128.43,365.30 L128.56,365.83 L128.69,366.36 L128.82,366.90 L128.93,367.43 L129.03,367.96 L129.12,368.49 L129.21,369.02 L129.30,369.55 L129.39,370.08 L129.47,370.61 L129.55,371.14 L129.63,371.68 L129.70,372.21 L129.77,372.74 L129.84,373.27 L129.90,373.80 L129.90,373.80 L129.96,373.27 L130.03,372.74 L130.10,372.21 L130.17,371.68 L130.25,371.14 L130.33,370.61 L130.41,370.08 L130.50,369.55 L130.59,369.02 L130.68,368.49 L130.77,367.96 L130.87,367.43 L130.98,366.90 L131.11,366.36 L131.24,365.83 L131.37,365.30 L131.50,364.77 L131.62,364.24 L131.73,363.71 L131.83,363.18 L131.91,362.65 L131.97,362.12 L132.02,361.58 L132.06,361.05 L132.10,360.52 L132.13,359.99 L132.16,359.46 L132.19,358.93 L132.22,358.40 L132.26,357.87 L132.31,357.34 L132.36,356.81 L132.43,356.27 L132.51,355.74 L132.65,355.21 L132.89,354.68 L133.19,354.15 L133.55,353.62 L133.95,353.09 L134.39,352.56 L134.83,352.03 L135.27,351.49 L135.70,350.96 L136.11,350.43 L136.58,349.90 L137.10,349.37 L137.65,348.84 L138.20,348.31 L138.73,347.78 L139.21,347.25 L139.64,346.71 L139.97,346.18 L140.19,345.65 L140.32,345.12 L140.45,344.59 L140.57,344.06 L140.68,343.53 L140.78,343.00 L140.86,342.47 L140.92,341.93 L140.97,341.40 L140.99,340.87 L141.00,340.34 L140.98,339.81 L140.94,339.28 L140.88,338.75 L140.81,338.22 L140.72,337.69 L140.61,337.15 L140.50,336.62 L140.38,336.09 L140.26,335.56 L140.13,335.03 L139.96,334.50 L139.75,333.97 L139.51,333.44 L139.24,332.91 L138.94,332.37 L138.63,331.84 L138.30,331.31 L137.97,330.78 L137.63,330.25 L137.26,329.72 L136.82,329.19 L136.33,328.66 L135.80,328.13 L135.27,327.59 L134.76,327.06 L134.27,326.53 L133.85,326.00 L133.49,325.47 L133.23,324.94 L133.01,324.41 L132.80,323.88 L132.61,323.35 L132.44,322.82 L132.28,322.28 L132.13,321.75 L131.99,321.22 L131.85,320.69 L131.72,320.16 L131.60,319.63 L131.48,319.10 L131.36,318.57 L131.24,318.04 L131.12,317.50 L131.01,316.97 L130.89,316.44 L130.79,315.91 L130.68,315.38 L130.58,314.85 L130.48,314.32 L130.38,313.79 L130.29,313.26 L130.20,312.72 L130.12,312.19 L130.04,311.66 L129.97,311.13 L129.90,310.60Z" fill="#8fd3f2" stroke="#1d9ad6" stroke-width="1.0"/>
<rect x="110.30" y="335.30" width="39.20" height="12.90" fill="#52b9e8" fill-opacity="0.75" stroke="#1a8fc9" stroke-width="0.7"/>
<line x1="110.30" y1="341.00" x2="149.50" y2="341.00" stroke="#1a8fc9" stroke-width="0.8"/>
<circle cx="138.32" cy="332.90" r="2.25" fill="#29a3d6" fill-opacity="0.75" stroke="#06263f" stroke-width="0.9"/>
<circle cx="133.15" cy="330.03" r="2.25" fill="#29a3d6" fill-opacity="0.75" stroke="#06263f" stroke-width="0.9"/>
<circle cx="126.57" cy="328.61" r="2.25" fill="#29a3d6" fill-opacity="0.75" stroke="#06263f" stroke-width="0.9"/>
<circle cx="127.02" cy="352.95" r="2.25" fill="#29a3d6" fill-opacity="0.75" stroke="#06263f" stroke-width="0.9"/>
<circle cx="129.16" cy="342.44" r="2.25" fill="#29a3d6" fill-opacity="0.75" stroke="#06263f" stroke-width="0.9"/>
<circle cx="129.90" cy="338.27" r="2.25" fill="#29a3d6" fill-opacity="0.75" stroke="#06263f" stroke-width="0.9"/>
<circle cx="138.08" cy="337.24" r="2.25" fill="#29a3d6" fill-opacity="0.75" stroke="#06263f" stroke-width="0.9"/>
<circle cx="122.32" cy="336.59" r="2.25" fill="#29a3d6" fill-opacity="0.75" stroke="#06263f" stroke-width="0.9"/>
<circle cx="133.20" cy="336.54" r="2.25" fill="#29a3d6" fill-opacity="0.75" stroke="#06263f" stroke-width="0.9"/>
<circle cx="131.27" cy="348.84" r="2.25" fill="#29a3d6" fill-opacity="0.75" stroke="#06263f" stroke-width="0.9"/>
<circle cx="123.09" cy="330.53" r="2.25" fill="#29a3d6" fill-opacity="0.75" stroke="#06263f" stroke-width="0.9"/>
<circle cx="134.72" cy="341.05" r="2.25" fill="#29a3d6" fill-opacity="0.75" stroke="#06263f" stroke-width="0.9"/>
<circle cx="126.45" cy="348.22" r="2.25" fill="#29a3d6" fill-opacity="0.75" stroke="#06263f" stroke-width="0.9"/>
<circle cx="139.04" cy="343.80" r="2.25" fill="#29a3d6" fill-opacity="0.75" stroke="#06263f" stroke-width="0.9"/>
<circle cx="128.61" cy="324.79" r="2.25" fill="#29a3d6" fill-opacity="0.75" stroke="#06263f" stroke-width="0.9"/>
<circle cx="128.56" cy="333.92" r="2.25" fill="#29a3d6" fill-opacity="0.75" stroke="#06263f" stroke-width="0.9"/>
<circle cx="125.64" cy="341.26" r="2.25" fill="#29a3d6" fill-opacity="0.75" stroke="#06263f" stroke-width="0.9"/>
<circle cx="123.84" cy="351.22" r="2.25" fill="#29a3d6" fill-opacity="0.75" stroke="#06263f" stroke-width="0.9"/>
<circle cx="130.87" cy="352.46" r="2.25" fill="#29a3d6" fill-opacity="0.75" stroke="#06263f" stroke-width="0.9"/>
<circle cx="120.19" cy="341.77" r="2.25" fill="#29a3d6" fill-opacity="0.75" stroke="#06263f" stroke-width="0.9"/>
<circle cx="132.91" cy="344.76" r="2.25" fill="#29a3d6" fill-opacity="0.75" stroke="#06263f" stroke-width="0.9"/>
<circle cx="136.87" cy="349.73" r="2.25" fill="#29a3d6" fill-opacity="0.75" stroke="#06263f" stroke-width="0.9"/>
<circle cx="125.06" cy="344.84" r="2.25" fill="#29a3d6" fill-opacity="0.75" stroke="#06263f" stroke-width="0.9"/>
<circle cx="134.47" cy="352.84" r="2.25" fill="#29a3d6" fill-opacity="0.75" stroke="#06263f" stroke-width="0.9"/>
<circle cx="121.39" cy="345.18" r="2.25" fill="#29a3d6" fill-opacity="0.75" stroke="#06263f" stroke-width="0.9"/>
<circle cx="132.77" cy="324.73" r="2.25" fill="#29a3d6" fill-opacity="0.75" stroke="#06263f" stroke-width="0.9"/>
<circle cx="125.94" cy="337.12" r="2.25" fill="#29a3d6" fill-opacity="0.75" stroke="#06263f" stroke-width="0.9"/>
<circle cx="136.81" cy="329.34" r="2.25" fill="#29a3d6" fill-opacity="0.75" stroke="#06263f" stroke-width="0.9"/>
<circle cx="140.21" cy="340.38" r="2.25" fill="#29a3d6" fill-opacity="0.75" stroke="#06263f" stroke-width="0.9"/>
<circle cx="124.91" cy="333.67" r="2.25" fill="#29a3d6" fill-opacity="0.75" stroke="#06263f" stroke-width="0.9"/>
<circle cx="125.60" cy="320.80" r="2.25" fill="#29a3d6" fill-opacity="0.75" stroke="#06263f" stroke-width="0.9"/>
<circle cx="119.60" cy="355.00" r="2.25" fill="#29a3d6" fill-opacity="0.75" stroke="#06263f" stroke-width="0.9"/>
<circle cx="132.80" cy="363.00" r="2.25" fill="#29a3d6" fill-opacity="0.75" stroke="#06263f" stroke-width="0.9"/>
<circle cx="139.00" cy="363.50" r="2.25" fill="#29a3d6" fill-opacity="0.75" stroke="#06263f" stroke-width="0.9"/>
<text x="176.00" y="291.60" font-size="10.8" text-anchor="start" fill="#111" font-weight="bold" stroke="#111" stroke-width="0.4">F</text>
<text x="274.70" y="302.10" font-size="8.75" text-anchor="middle" fill="#1e1e1e" font-weight="normal" >MS by Shock at ED</text>
<line x1="219.00" y1="308.50" x2="219.00" y2="377.90" stroke="#231f20" stroke-width="1.1" />
<line x1="218.50" y1="377.40" x2="330.60" y2="377.40" stroke="#231f20" stroke-width="1.1" />
<line x1="216.00" y1="309.97" x2="219.00" y2="309.97" stroke="#231f20" stroke-width="1" />
<text x="213.40" y="312.72" font-size="7.9" text-anchor="end" fill="#1e1e1e" font-weight="normal" >100000</text>
<line x1="216.00" y1="327.25" x2="219.00" y2="327.25" stroke="#231f20" stroke-width="1" />
<text x="213.40" y="330.00" font-size="7.9" text-anchor="end" fill="#1e1e1e" font-weight="normal" >75000</text>
<line x1="216.00" y1="344.52" x2="219.00" y2="344.52" stroke="#231f20" stroke-width="1" />
<text x="213.40" y="347.27" font-size="7.9" text-anchor="end" fill="#1e1e1e" font-weight="normal" >50000</text>
<line x1="216.00" y1="361.80" x2="219.00" y2="361.80" stroke="#231f20" stroke-width="1" />
<text x="213.40" y="364.55" font-size="7.9" text-anchor="end" fill="#1e1e1e" font-weight="normal" >25000</text>
<line x1="249.40" y1="377.40" x2="249.40" y2="380.00" stroke="#231f20" stroke-width="0.9" />
<text x="249.40" y="389.65" font-size="7.45" text-anchor="middle" fill="#1e1e1e" font-weight="normal" >HS</text>
<line x1="300.00" y1="377.40" x2="300.00" y2="380.00" stroke="#231f20" stroke-width="0.9" />
<text x="300.00" y="389.65" font-size="7.45" text-anchor="middle" fill="#1e1e1e" font-weight="normal" >LS</text>
<path d="M249.40,321.00 L249.37,321.41 L249.30,321.81 L249.21,322.22 L249.10,322.62 L248.96,323.03 L248.82,323.44 L248.66,323.84 L248.49,324.25 L248.28,324.65 L248.02,325.06 L247.72,325.46 L247.40,325.87 L247.05,326.28 L246.69,326.68 L246.32,327.09 L245.92,327.49 L245.48,327.90 L245.00,328.31 L244.50,328.71 L243.97,329.12 L243.41,329.52 L242.84,329.93 L242.25,330.34 L241.59,330.74 L240.89,331.15 L240.15,331.55 L239.40,331.96 L238.66,332.36 L237.95,332.77 L237.28,333.18 L236.62,333.58 L235.96,333.99 L235.32,334.39 L234.69,334.80 L234.09,335.21 L233.52,335.61 L233.00,336.02 L232.52,336.42 L232.06,336.83 L231.63,337.24 L231.21,337.64 L230.82,338.05 L230.45,338.45 L230.10,338.86 L229.77,339.26 L229.46,339.67 L229.17,340.08 L228.89,340.48 L228.62,340.89 L228.36,341.29 L228.10,341.70 L227.83,342.11 L227.52,342.51 L227.18,342.92 L226.84,343.32 L226.53,343.73 L226.27,344.14 L226.08,344.54 L226.00,344.95 L226.11,345.35 L226.46,345.76 L227.01,346.16 L227.69,346.57 L228.43,346.98 L229.19,347.38 L229.97,347.79 L230.94,348.19 L232.04,348.60 L233.19,349.01 L234.33,349.41 L235.38,349.82 L236.30,350.22 L237.18,350.63 L238.04,351.04 L238.86,351.44 L239.64,351.85 L240.37,352.25 L241.04,352.66 L241.65,353.06 L242.23,353.47 L242.77,353.88 L243.29,354.28 L243.78,354.69 L244.24,355.09 L244.69,355.50 L245.12,355.91 L245.56,356.31 L246.00,356.72 L246.43,357.12 L246.82,357.53 L247.16,357.94 L247.43,358.34 L247.62,358.75 L247.76,359.15 L247.88,359.56 L247.99,359.96 L248.09,360.37 L248.18,360.78 L248.26,361.18 L248.33,361.59 L248.40,361.99 L248.47,362.40 L248.54,362.81 L248.60,363.21 L248.67,363.62 L248.74,364.02 L248.80,364.43 L248.86,364.84 L248.92,365.24 L248.98,365.65 L249.04,366.05 L249.10,366.46 L249.15,366.86 L249.20,367.27 L249.24,367.68 L249.29,368.08 L249.33,368.49 L249.37,368.89 L249.40,369.30 L249.40,369.30 L249.43,368.89 L249.47,368.49 L249.51,368.08 L249.56,367.68 L249.60,367.27 L249.65,366.86 L249.70,366.46 L249.76,366.05 L249.82,365.65 L249.88,365.24 L249.94,364.84 L250.00,364.43 L250.06,364.02 L250.13,363.62 L250.20,363.21 L250.26,362.81 L250.33,362.40 L250.40,361.99 L250.47,361.59 L250.54,361.18 L250.62,360.78 L250.71,360.37 L250.81,359.96 L250.92,359.56 L251.04,359.15 L251.18,358.75 L251.37,358.34 L251.64,357.94 L251.98,357.53 L252.37,357.12 L252.80,356.72 L253.24,356.31 L253.68,355.91 L254.11,355.50 L254.56,355.09 L255.02,354.69 L255.51,354.28 L256.03,353.88 L256.57,353.47 L257.15,353.06 L257.76,352.66 L258.43,352.25 L259.16,351.85 L259.94,351.44 L260.76,351.04 L261.62,350.63 L262.50,350.22 L263.42,349.82 L264.47,349.41 L265.61,349.01 L266.76,348.60 L267.86,348.19 L268.83,347.79 L269.61,347.38 L270.37,346.98 L271.11,346.57 L271.79,346.16 L272.34,345.76 L272.69,345.35 L272.80,344.95 L272.72,344.54 L272.53,344.14 L272.27,343.73 L271.96,343.32 L271.62,342.92 L271.28,342.51 L270.97,342.11 L270.70,341.70 L270.44,341.29 L270.18,340.89 L269.91,340.48 L269.63,340.08 L269.34,339.67 L269.03,339.26 L268.70,338.86 L268.35,338.45 L267.98,338.05 L267.59,337.64 L267.17,337.24 L266.74,336.83 L266.28,336.42 L265.80,336.02 L265.28,335.61 L264.71,335.21 L264.11,334.80 L263.48,334.39 L262.84,333.99 L262.18,333.58 L261.52,333.18 L260.85,332.77 L260.14,332.36 L259.40,331.96 L258.65,331.55 L257.91,331.15 L257.21,330.74 L256.55,330.34 L255.96,329.93 L255.39,329.52 L254.83,329.12 L254.30,328.71 L253.80,328.31 L253.32,327.90 L252.88,327.49 L252.48,327.09 L252.11,326.68 L251.75,326.28 L251.40,325.87 L251.08,325.46 L250.78,325.06 L250.52,324.65 L250.31,324.25 L250.14,323.84 L249.98,323.44 L249.84,323.03 L249.70,322.62 L249.59,322.22 L249.50,321.81 L249.43,321.41 L249.40,321.00Z" fill="#afbdc6" stroke="#2a3640" stroke-width="1.0"/>
<rect x="229.00" y="336.90" width="40.80" height="9.80" fill="#7f939f" fill-opacity="0.75" stroke="#3c4c58" stroke-width="0.7"/>
<line x1="229.00" y1="343.00" x2="269.80" y2="343.00" stroke="#3c4c58" stroke-width="0.8"/>
<circle cx="245.33" cy="341.57" r="2.25" fill="#4a5763" fill-opacity="0.9" stroke="#0d1114" stroke-width="0.9"/>
<circle cx="257.38" cy="334.02" r="2.25" fill="#4a5763" fill-opacity="0.9" stroke="#0d1114" stroke-width="0.9"/>
<circle cx="248.52" cy="326.92" r="2.25" fill="#4a5763" fill-opacity="0.9" stroke="#0d1114" stroke-width="0.9"/>
<circle cx="239.28" cy="350.74" r="2.25" fill="#4a5763" fill-opacity="0.9" stroke="#0d1114" stroke-width="0.9"/>
<circle cx="251.42" cy="343.32" r="2.25" fill="#4a5763" fill-opacity="0.9" stroke="#0d1114" stroke-width="0.9"/>
<circle cx="247.30" cy="346.04" r="2.25" fill="#4a5763" fill-opacity="0.9" stroke="#0d1114" stroke-width="0.9"/>
<circle cx="239.93" cy="346.45" r="2.25" fill="#4a5763" fill-opacity="0.9" stroke="#0d1114" stroke-width="0.9"/>
<circle cx="238.77" cy="336.71" r="2.25" fill="#4a5763" fill-opacity="0.9" stroke="#0d1114" stroke-width="0.9"/>
<circle cx="259.10" cy="342.41" r="2.25" fill="#4a5763" fill-opacity="0.9" stroke="#0d1114" stroke-width="0.9"/>
<circle cx="255.36" cy="343.99" r="2.25" fill="#4a5763" fill-opacity="0.9" stroke="#0d1114" stroke-width="0.9"/>
<circle cx="254.65" cy="339.96" r="2.25" fill="#4a5763" fill-opacity="0.9" stroke="#0d1114" stroke-width="0.9"/>
<circle cx="244.07" cy="332.79" r="2.25" fill="#4a5763" fill-opacity="0.9" stroke="#0d1114" stroke-width="0.9"/>
<circle cx="238.19" cy="340.74" r="2.25" fill="#4a5763" fill-opacity="0.9" stroke="#0d1114" stroke-width="0.9"/>
<circle cx="249.27" cy="332.09" r="2.25" fill="#4a5763" fill-opacity="0.9" stroke="#0d1114" stroke-width="0.9"/>
<circle cx="244.18" cy="328.19" r="2.25" fill="#4a5763" fill-opacity="0.9" stroke="#0d1114" stroke-width="0.9"/>
<circle cx="260.87" cy="337.43" r="2.25" fill="#4a5763" fill-opacity="0.9" stroke="#0d1114" stroke-width="0.9"/>
<circle cx="245.06" cy="356.73" r="2.25" fill="#4a5763" fill-opacity="0.9" stroke="#0d1114" stroke-width="0.9"/>
<circle cx="259.77" cy="346.08" r="2.25" fill="#4a5763" fill-opacity="0.9" stroke="#0d1114" stroke-width="0.9"/>
<circle cx="251.28" cy="336.68" r="2.25" fill="#4a5763" fill-opacity="0.9" stroke="#0d1114" stroke-width="0.9"/>
<circle cx="244.22" cy="347.99" r="2.25" fill="#4a5763" fill-opacity="0.9" stroke="#0d1114" stroke-width="0.9"/>
<circle cx="251.78" cy="328.89" r="2.25" fill="#4a5763" fill-opacity="0.9" stroke="#0d1114" stroke-width="0.9"/>
<circle cx="255.74" cy="330.55" r="2.25" fill="#4a5763" fill-opacity="0.9" stroke="#0d1114" stroke-width="0.9"/>
<circle cx="249.68" cy="355.48" r="2.25" fill="#4a5763" fill-opacity="0.9" stroke="#0d1114" stroke-width="0.9"/>
<circle cx="248.37" cy="350.13" r="2.25" fill="#4a5763" fill-opacity="0.9" stroke="#0d1114" stroke-width="0.9"/>
<circle cx="239.02" cy="332.70" r="2.25" fill="#4a5763" fill-opacity="0.9" stroke="#0d1114" stroke-width="0.9"/>
<circle cx="256.70" cy="352.38" r="2.25" fill="#4a5763" fill-opacity="0.9" stroke="#0d1114" stroke-width="0.9"/>
<circle cx="242.41" cy="336.66" r="2.25" fill="#4a5763" fill-opacity="0.9" stroke="#0d1114" stroke-width="0.9"/>
<circle cx="247.54" cy="337.61" r="2.25" fill="#4a5763" fill-opacity="0.9" stroke="#0d1114" stroke-width="0.9"/>
<circle cx="252.93" cy="349.68" r="2.25" fill="#4a5763" fill-opacity="0.9" stroke="#0d1114" stroke-width="0.9"/>
<circle cx="242.09" cy="353.85" r="2.25" fill="#4a5763" fill-opacity="0.9" stroke="#0d1114" stroke-width="0.9"/>
<circle cx="246.07" cy="352.97" r="2.25" fill="#4a5763" fill-opacity="0.9" stroke="#0d1114" stroke-width="0.9"/>
<circle cx="236.04" cy="345.01" r="2.25" fill="#4a5763" fill-opacity="0.9" stroke="#0d1114" stroke-width="0.9"/>
<circle cx="249.40" cy="364.80" r="2.25" fill="#4a5763" fill-opacity="0.9" stroke="#0d1114" stroke-width="0.9"/>
<path d="M299.90,309.70 L299.76,310.24 L299.63,310.78 L299.50,311.32 L299.38,311.85 L299.26,312.39 L299.14,312.93 L299.03,313.47 L298.92,314.01 L298.82,314.55 L298.73,315.09 L298.64,315.63 L298.55,316.16 L298.47,316.70 L298.40,317.24 L298.35,317.78 L298.30,318.32 L298.25,318.86 L298.20,319.40 L298.15,319.93 L298.09,320.47 L298.01,321.01 L297.93,321.55 L297.82,322.09 L297.67,322.63 L297.48,323.17 L297.25,323.71 L296.99,324.24 L296.69,324.78 L296.34,325.32 L295.83,325.86 L295.16,326.40 L294.41,326.94 L293.61,327.48 L292.84,328.01 L292.14,328.55 L291.49,329.09 L290.85,329.63 L290.22,330.17 L289.60,330.71 L288.97,331.25 L288.35,331.78 L287.72,332.32 L287.09,332.86 L286.44,333.40 L285.77,333.94 L285.03,334.48 L284.27,335.02 L283.52,335.56 L282.83,336.09 L282.23,336.63 L281.76,337.17 L281.32,337.71 L280.88,338.25 L280.47,338.79 L280.10,339.33 L279.79,339.86 L279.56,340.40 L279.43,340.94 L279.41,341.48 L279.50,342.02 L279.68,342.56 L279.95,343.10 L280.29,343.64 L280.69,344.17 L281.13,344.71 L281.59,345.25 L282.09,345.79 L282.82,346.33 L283.76,346.87 L284.83,347.41 L285.94,347.94 L287.00,348.48 L287.93,349.02 L288.78,349.56 L289.62,350.10 L290.44,350.64 L291.23,351.18 L291.99,351.72 L292.70,352.25 L293.35,352.79 L293.93,353.33 L294.49,353.87 L295.05,354.41 L295.59,354.95 L296.09,355.49 L296.53,356.02 L296.90,356.56 L297.17,357.10 L297.33,357.64 L297.45,358.18 L297.54,358.72 L297.63,359.26 L297.70,359.79 L297.76,360.33 L297.82,360.87 L297.87,361.41 L297.92,361.95 L297.97,362.49 L298.03,363.03 L298.09,363.57 L298.16,364.10 L298.24,364.64 L298.32,365.18 L298.40,365.72 L298.49,366.26 L298.58,366.80 L298.67,367.34 L298.76,367.87 L298.86,368.41 L298.95,368.95 L299.05,369.49 L299.15,370.03 L299.25,370.57 L299.36,371.11 L299.46,371.65 L299.57,372.18 L299.68,372.72 L299.79,373.26 L299.90,373.80 L299.90,373.80 L300.01,373.26 L300.12,372.72 L300.23,372.18 L300.34,371.65 L300.44,371.11 L300.55,370.57 L300.65,370.03 L300.75,369.49 L300.85,368.95 L300.94,368.41 L301.04,367.87 L301.13,367.34 L301.22,366.80 L301.31,366.26 L301.40,365.72 L301.48,365.18 L301.56,364.64 L301.64,364.10 L301.71,363.57 L301.77,363.03 L301.83,362.49 L301.88,361.95 L301.93,361.41 L301.98,360.87 L302.04,360.33 L302.10,359.79 L302.17,359.26 L302.26,358.72 L302.35,358.18 L302.47,357.64 L302.63,357.10 L302.90,356.56 L303.27,356.02 L303.71,355.49 L304.21,354.95 L304.75,354.41 L305.31,353.87 L305.87,353.33 L306.45,352.79 L307.10,352.25 L307.81,351.72 L308.57,351.18 L309.36,350.64 L310.18,350.10 L311.02,349.56 L311.87,349.02 L312.80,348.48 L313.86,347.94 L314.97,347.41 L316.04,346.87 L316.98,346.33 L317.71,345.79 L318.21,345.25 L318.67,344.71 L319.11,344.17 L319.51,343.64 L319.85,343.10 L320.12,342.56 L320.30,342.02 L320.39,341.48 L320.37,340.94 L320.24,340.40 L320.01,339.86 L319.70,339.33 L319.33,338.79 L318.92,338.25 L318.48,337.71 L318.04,337.17 L317.57,336.63 L316.97,336.09 L316.28,335.56 L315.53,335.02 L314.77,334.48 L314.03,333.94 L313.36,333.40 L312.71,332.86 L312.08,332.32 L311.45,331.78 L310.83,331.25 L310.20,330.71 L309.58,330.17 L308.95,329.63 L308.31,329.09 L307.66,328.55 L306.96,328.01 L306.19,327.48 L305.39,326.94 L304.64,326.40 L303.97,325.86 L303.46,325.32 L303.11,324.78 L302.81,324.24 L302.55,323.71 L302.32,323.17 L302.13,322.63 L301.98,322.09 L301.87,321.55 L301.79,321.01 L301.71,320.47 L301.65,319.93 L301.60,319.40 L301.55,318.86 L301.50,318.32 L301.45,317.78 L301.40,317.24 L301.33,316.70 L301.25,316.16 L301.16,315.63 L301.07,315.09 L300.98,314.55 L300.88,314.01 L300.77,313.47 L300.66,312.93 L300.54,312.39 L300.42,311.85 L300.30,311.32 L300.17,310.78 L300.04,310.24 L299.90,309.70Z" fill="#eca232" stroke="#c57f15" stroke-width="1.0"/>
<rect x="281.10" y="336.20" width="38.40" height="12.80" fill="#e0921f" fill-opacity="0.75" stroke="#b97510" stroke-width="0.7"/>
<line x1="281.10" y1="342.00" x2="319.50" y2="342.00" stroke="#b97510" stroke-width="0.8"/>
<circle cx="297.72" cy="342.31" r="2.25" fill="#9a6526" fill-opacity="0.85" stroke="#2e1903" stroke-width="0.9"/>
<circle cx="292.15" cy="342.44" r="2.25" fill="#9a6526" fill-opacity="0.85" stroke="#2e1903" stroke-width="0.9"/>
<circle cx="307.59" cy="347.37" r="2.25" fill="#9a6526" fill-opacity="0.85" stroke="#2e1903" stroke-width="0.9"/>
<circle cx="310.82" cy="335.95" r="2.25" fill="#9a6526" fill-opacity="0.85" stroke="#2e1903" stroke-width="0.9"/>
<circle cx="295.15" cy="355.62" r="2.25" fill="#9a6526" fill-opacity="0.85" stroke="#2e1903" stroke-width="0.9"/>
<circle cx="301.85" cy="348.68" r="2.25" fill="#9a6526" fill-opacity="0.85" stroke="#2e1903" stroke-width="0.9"/>
<circle cx="294.09" cy="338.71" r="2.25" fill="#9a6526" fill-opacity="0.85" stroke="#2e1903" stroke-width="0.9"/>
<circle cx="303.55" cy="344.54" r="2.25" fill="#9a6526" fill-opacity="0.85" stroke="#2e1903" stroke-width="0.9"/>
<circle cx="305.76" cy="332.95" r="2.25" fill="#9a6526" fill-opacity="0.85" stroke="#2e1903" stroke-width="0.9"/>
<circle cx="304.84" cy="354.34" r="2.25" fill="#9a6526" fill-opacity="0.85" stroke="#2e1903" stroke-width="0.9"/>
<circle cx="288.11" cy="343.11" r="2.25" fill="#9a6526" fill-opacity="0.85" stroke="#2e1903" stroke-width="0.9"/>
<circle cx="294.11" cy="328.08" r="2.25" fill="#9a6526" fill-opacity="0.85" stroke="#2e1903" stroke-width="0.9"/>
<circle cx="296.40" cy="351.78" r="2.25" fill="#9a6526" fill-opacity="0.85" stroke="#2e1903" stroke-width="0.9"/>
<circle cx="300.72" cy="337.34" r="2.25" fill="#9a6526" fill-opacity="0.85" stroke="#2e1903" stroke-width="0.9"/>
<circle cx="308.10" cy="342.56" r="2.25" fill="#9a6526" fill-opacity="0.85" stroke="#2e1903" stroke-width="0.9"/>
<circle cx="292.72" cy="333.62" r="2.25" fill="#9a6526" fill-opacity="0.85" stroke="#2e1903" stroke-width="0.9"/>
<circle cx="287.92" cy="339.32" r="2.25" fill="#9a6526" fill-opacity="0.85" stroke="#2e1903" stroke-width="0.9"/>
<circle cx="291.37" cy="348.53" r="2.25" fill="#9a6526" fill-opacity="0.85" stroke="#2e1903" stroke-width="0.9"/>
<circle cx="302.65" cy="328.13" r="2.25" fill="#9a6526" fill-opacity="0.85" stroke="#2e1903" stroke-width="0.9"/>
<circle cx="298.44" cy="331.25" r="2.25" fill="#9a6526" fill-opacity="0.85" stroke="#2e1903" stroke-width="0.9"/>
<circle cx="311.22" cy="339.86" r="2.25" fill="#9a6526" fill-opacity="0.85" stroke="#2e1903" stroke-width="0.9"/>
<circle cx="299.35" cy="355.23" r="2.25" fill="#9a6526" fill-opacity="0.85" stroke="#2e1903" stroke-width="0.9"/>
<circle cx="311.06" cy="346.26" r="2.25" fill="#9a6526" fill-opacity="0.85" stroke="#2e1903" stroke-width="0.9"/>
<circle cx="303.60" cy="339.52" r="2.25" fill="#9a6526" fill-opacity="0.85" stroke="#2e1903" stroke-width="0.9"/>
<circle cx="297.13" cy="347.06" r="2.25" fill="#9a6526" fill-opacity="0.85" stroke="#2e1903" stroke-width="0.9"/>
<circle cx="287.50" cy="347.99" r="2.25" fill="#9a6526" fill-opacity="0.85" stroke="#2e1903" stroke-width="0.9"/>
<circle cx="292.82" cy="352.24" r="2.25" fill="#9a6526" fill-opacity="0.85" stroke="#2e1903" stroke-width="0.9"/>
<circle cx="287.29" cy="334.99" r="2.25" fill="#9a6526" fill-opacity="0.85" stroke="#2e1903" stroke-width="0.9"/>
<circle cx="289.44" cy="331.26" r="2.25" fill="#9a6526" fill-opacity="0.85" stroke="#2e1903" stroke-width="0.9"/>
<circle cx="307.70" cy="329.01" r="2.25" fill="#9a6526" fill-opacity="0.85" stroke="#2e1903" stroke-width="0.9"/>
<circle cx="296.34" cy="335.59" r="2.25" fill="#9a6526" fill-opacity="0.85" stroke="#2e1903" stroke-width="0.9"/>
<circle cx="307.39" cy="351.09" r="2.25" fill="#9a6526" fill-opacity="0.85" stroke="#2e1903" stroke-width="0.9"/>
<circle cx="301.90" cy="332.66" r="2.25" fill="#9a6526" fill-opacity="0.85" stroke="#2e1903" stroke-width="0.9"/>
<circle cx="307.18" cy="336.36" r="2.25" fill="#9a6526" fill-opacity="0.85" stroke="#2e1903" stroke-width="0.9"/>
<circle cx="290.52" cy="336.63" r="2.25" fill="#9a6526" fill-opacity="0.85" stroke="#2e1903" stroke-width="0.9"/>
<circle cx="309.65" cy="332.26" r="2.25" fill="#9a6526" fill-opacity="0.85" stroke="#2e1903" stroke-width="0.9"/>
<circle cx="297.30" cy="322.50" r="2.25" fill="#9a6526" fill-opacity="0.85" stroke="#2e1903" stroke-width="0.9"/>
<circle cx="307.90" cy="318.60" r="2.25" fill="#9a6526" fill-opacity="0.85" stroke="#2e1903" stroke-width="0.9"/>
<circle cx="292.20" cy="365.20" r="2.25" fill="#9a6526" fill-opacity="0.85" stroke="#2e1903" stroke-width="0.9"/>
<circle cx="303.30" cy="364.40" r="2.25" fill="#9a6526" fill-opacity="0.85" stroke="#2e1903" stroke-width="0.9"/>
<text x="345.30" y="291.60" font-size="10.8" text-anchor="start" fill="#111" font-weight="bold" stroke="#111" stroke-width="0.4">H</text>
<text x="445.00" y="302.10" font-size="8.75" text-anchor="middle" fill="#1e1e1e" font-weight="normal" >MS by Coag. at ED</text>
<line x1="389.00" y1="308.00" x2="389.00" y2="377.90" stroke="#231f20" stroke-width="1.1" />
<line x1="388.50" y1="377.40" x2="500.60" y2="377.40" stroke="#231f20" stroke-width="1.1" />
<line x1="386.00" y1="309.50" x2="389.00" y2="309.50" stroke="#231f20" stroke-width="1" />
<text x="383.40" y="312.25" font-size="7.9" text-anchor="end" fill="#1e1e1e" font-weight="normal" >100000</text>
<line x1="386.00" y1="327.00" x2="389.00" y2="327.00" stroke="#231f20" stroke-width="1" />
<text x="383.40" y="329.75" font-size="7.9" text-anchor="end" fill="#1e1e1e" font-weight="normal" >75000</text>
<line x1="386.00" y1="344.50" x2="389.00" y2="344.50" stroke="#231f20" stroke-width="1" />
<text x="383.40" y="347.25" font-size="7.9" text-anchor="end" fill="#1e1e1e" font-weight="normal" >50000</text>
<line x1="386.00" y1="362.00" x2="389.00" y2="362.00" stroke="#231f20" stroke-width="1" />
<text x="383.40" y="364.75" font-size="7.9" text-anchor="end" fill="#1e1e1e" font-weight="normal" >25000</text>
<line x1="419.40" y1="377.40" x2="419.40" y2="380.00" stroke="#231f20" stroke-width="0.9" />
<text x="419.40" y="389.65" font-size="7.45" text-anchor="middle" fill="#1e1e1e" font-weight="normal" >Coag.</text>
<line x1="470.40" y1="377.40" x2="470.40" y2="380.00" stroke="#231f20" stroke-width="0.9" />
<text x="470.40" y="389.65" font-size="7.45" text-anchor="middle" fill="#1e1e1e" font-weight="normal" >Not Coag.</text>
<path d="M419.10,318.00 L419.07,318.40 L419.02,318.80 L418.95,319.20 L418.86,319.60 L418.77,320.00 L418.66,320.39 L418.53,320.79 L418.40,321.19 L418.27,321.59 L418.12,321.99 L417.98,322.39 L417.83,322.79 L417.66,323.19 L417.46,323.59 L417.25,323.99 L417.00,324.39 L416.74,324.79 L416.44,325.18 L416.11,325.58 L415.72,325.98 L415.24,326.38 L414.67,326.78 L414.05,327.18 L413.38,327.58 L412.69,327.98 L411.99,328.38 L411.29,328.78 L410.53,329.18 L409.72,329.58 L408.87,329.97 L408.01,330.37 L407.16,330.77 L406.33,331.17 L405.55,331.57 L404.79,331.97 L404.00,332.37 L403.22,332.77 L402.46,333.17 L401.75,333.57 L401.11,333.97 L400.56,334.37 L400.13,334.76 L399.75,335.16 L399.40,335.56 L399.07,335.96 L398.79,336.36 L398.53,336.76 L398.31,337.16 L398.12,337.56 L397.95,337.96 L397.78,338.36 L397.62,338.76 L397.47,339.16 L397.32,339.55 L397.19,339.95 L397.07,340.35 L396.97,340.75 L396.89,341.15 L396.84,341.55 L396.81,341.95 L396.80,342.35 L396.86,342.75 L396.97,343.15 L397.13,343.55 L397.33,343.95 L397.57,344.34 L397.84,344.74 L398.12,345.14 L398.42,345.54 L398.73,345.94 L399.12,346.34 L399.63,346.74 L400.23,347.14 L400.89,347.54 L401.61,347.94 L402.36,348.34 L403.11,348.74 L403.84,349.13 L404.53,349.53 L405.17,349.93 L405.82,350.33 L406.48,350.73 L407.13,351.13 L407.79,351.53 L408.43,351.93 L409.07,352.33 L409.68,352.73 L410.27,353.13 L410.83,353.53 L411.39,353.92 L411.94,354.32 L412.49,354.72 L413.03,355.12 L413.54,355.52 L414.03,355.92 L414.48,356.32 L414.88,356.72 L415.23,357.12 L415.54,357.52 L415.83,357.92 L416.10,358.32 L416.36,358.71 L416.60,359.11 L416.82,359.51 L417.03,359.91 L417.24,360.31 L417.43,360.71 L417.61,361.11 L417.78,361.51 L417.94,361.91 L418.10,362.31 L418.26,362.71 L418.40,363.11 L418.54,363.50 L418.67,363.90 L418.79,364.30 L418.91,364.70 L419.01,365.10 L419.10,365.50 L419.10,365.50 L419.19,365.10 L419.29,364.70 L419.41,364.30 L419.53,363.90 L419.66,363.50 L419.80,363.11 L419.94,362.71 L420.10,362.31 L420.26,361.91 L420.42,361.51 L420.59,361.11 L420.77,360.71 L420.96,360.31 L421.17,359.91 L421.38,359.51 L421.60,359.11 L421.84,358.71 L422.10,358.32 L422.37,357.92 L422.66,357.52 L422.97,357.12 L423.32,356.72 L423.72,356.32 L424.17,355.92 L424.66,355.52 L425.17,355.12 L425.71,354.72 L426.26,354.32 L426.81,353.92 L427.37,353.53 L427.93,353.13 L428.52,352.73 L429.13,352.33 L429.77,351.93 L430.41,351.53 L431.07,351.13 L431.72,350.73 L432.38,350.33 L433.03,349.93 L433.67,349.53 L434.36,349.13 L435.09,348.74 L435.84,348.34 L436.59,347.94 L437.31,347.54 L437.97,347.14 L438.57,346.74 L439.08,346.34 L439.47,345.94 L439.78,345.54 L440.08,345.14 L440.36,344.74 L440.63,344.34 L440.87,343.95 L441.07,343.55 L441.23,343.15 L441.34,342.75 L441.40,342.35 L441.39,341.95 L441.36,341.55 L441.31,341.15 L441.23,340.75 L441.13,340.35 L441.01,339.95 L440.88,339.55 L440.73,339.16 L440.58,338.76 L440.42,338.36 L440.25,337.96 L440.08,337.56 L439.89,337.16 L439.67,336.76 L439.41,336.36 L439.13,335.96 L438.80,335.56 L438.45,335.16 L438.07,334.76 L437.64,334.37 L437.09,333.97 L436.45,333.57 L435.74,333.17 L434.98,332.77 L434.20,332.37 L433.41,331.97 L432.65,331.57 L431.87,331.17 L431.04,330.77 L430.19,330.37 L429.33,329.97 L428.48,329.58 L427.67,329.18 L426.91,328.78 L426.21,328.38 L425.51,327.98 L424.82,327.58 L424.15,327.18 L423.53,326.78 L422.96,326.38 L422.48,325.98 L422.09,325.58 L421.76,325.18 L421.46,324.79 L421.20,324.39 L420.95,323.99 L420.74,323.59 L420.54,323.19 L420.37,322.79 L420.22,322.39 L420.08,321.99 L419.93,321.59 L419.80,321.19 L419.67,320.79 L419.54,320.39 L419.43,320.00 L419.34,319.60 L419.25,319.20 L419.18,318.80 L419.13,318.40 L419.10,318.00Z" fill="#b8b5e3" stroke="#7873bd" stroke-width="1.0"/>
<rect x="397.50" y="336.90" width="43.00" height="9.80" fill="#9f9ad6" fill-opacity="0.75" stroke="#7873bd" stroke-width="0.7"/>
<line x1="397.50" y1="342.00" x2="440.50" y2="342.00" stroke="#7873bd" stroke-width="0.8"/>
<circle cx="420.99" cy="340.19" r="2.25" fill="#a09cd0" fill-opacity="0.75" stroke="#1c1845" stroke-width="0.9"/>
<circle cx="418.84" cy="352.24" r="2.25" fill="#a09cd0" fill-opacity="0.75" stroke="#1c1845" stroke-width="0.9"/>
<circle cx="419.80" cy="334.08" r="2.25" fill="#a09cd0" fill-opacity="0.75" stroke="#1c1845" stroke-width="0.9"/>
<circle cx="426.82" cy="343.95" r="2.25" fill="#a09cd0" fill-opacity="0.75" stroke="#1c1845" stroke-width="0.9"/>
<circle cx="414.81" cy="331.41" r="2.25" fill="#a09cd0" fill-opacity="0.75" stroke="#1c1845" stroke-width="0.9"/>
<circle cx="426.78" cy="331.29" r="2.25" fill="#a09cd0" fill-opacity="0.75" stroke="#1c1845" stroke-width="0.9"/>
<circle cx="408.05" cy="345.35" r="2.25" fill="#a09cd0" fill-opacity="0.75" stroke="#1c1845" stroke-width="0.9"/>
<circle cx="424.91" cy="355.90" r="2.25" fill="#a09cd0" fill-opacity="0.75" stroke="#1c1845" stroke-width="0.9"/>
<circle cx="422.39" cy="344.47" r="2.25" fill="#a09cd0" fill-opacity="0.75" stroke="#1c1845" stroke-width="0.9"/>
<circle cx="407.38" cy="333.36" r="2.25" fill="#a09cd0" fill-opacity="0.75" stroke="#1c1845" stroke-width="0.9"/>
<circle cx="418.96" cy="328.52" r="2.25" fill="#a09cd0" fill-opacity="0.75" stroke="#1c1845" stroke-width="0.9"/>
<circle cx="428.06" cy="339.93" r="2.25" fill="#a09cd0" fill-opacity="0.75" stroke="#1c1845" stroke-width="0.9"/>
<circle cx="413.95" cy="340.29" r="2.25" fill="#a09cd0" fill-opacity="0.75" stroke="#1c1845" stroke-width="0.9"/>
<circle cx="424.70" cy="349.10" r="2.25" fill="#a09cd0" fill-opacity="0.75" stroke="#1c1845" stroke-width="0.9"/>
<circle cx="417.01" cy="347.07" r="2.25" fill="#a09cd0" fill-opacity="0.75" stroke="#1c1845" stroke-width="0.9"/>
<circle cx="422.28" cy="330.63" r="2.25" fill="#a09cd0" fill-opacity="0.75" stroke="#1c1845" stroke-width="0.9"/>
<circle cx="411.44" cy="347.86" r="2.25" fill="#a09cd0" fill-opacity="0.75" stroke="#1c1845" stroke-width="0.9"/>
<circle cx="418.19" cy="342.45" r="2.25" fill="#a09cd0" fill-opacity="0.75" stroke="#1c1845" stroke-width="0.9"/>
<circle cx="431.48" cy="331.63" r="2.25" fill="#a09cd0" fill-opacity="0.75" stroke="#1c1845" stroke-width="0.9"/>
<circle cx="413.46" cy="334.80" r="2.25" fill="#a09cd0" fill-opacity="0.75" stroke="#1c1845" stroke-width="0.9"/>
<circle cx="408.83" cy="336.76" r="2.25" fill="#a09cd0" fill-opacity="0.75" stroke="#1c1845" stroke-width="0.9"/>
<circle cx="430.51" cy="346.42" r="2.25" fill="#a09cd0" fill-opacity="0.75" stroke="#1c1845" stroke-width="0.9"/>
<circle cx="424.61" cy="335.41" r="2.25" fill="#a09cd0" fill-opacity="0.75" stroke="#1c1845" stroke-width="0.9"/>
<circle cx="413.58" cy="351.93" r="2.25" fill="#a09cd0" fill-opacity="0.75" stroke="#1c1845" stroke-width="0.9"/>
<circle cx="424.77" cy="327.68" r="2.25" fill="#a09cd0" fill-opacity="0.75" stroke="#1c1845" stroke-width="0.9"/>
<circle cx="431.98" cy="337.27" r="2.25" fill="#a09cd0" fill-opacity="0.75" stroke="#1c1845" stroke-width="0.9"/>
<circle cx="418.95" cy="355.89" r="2.25" fill="#a09cd0" fill-opacity="0.75" stroke="#1c1845" stroke-width="0.9"/>
<circle cx="408.36" cy="350.18" r="2.25" fill="#a09cd0" fill-opacity="0.75" stroke="#1c1845" stroke-width="0.9"/>
<path d="M469.90,309.50 L469.84,310.04 L469.77,310.58 L469.69,311.12 L469.60,311.66 L469.50,312.20 L469.38,312.74 L469.27,313.28 L469.14,313.82 L469.01,314.36 L468.87,314.89 L468.69,315.43 L468.46,315.97 L468.20,316.51 L467.94,317.05 L467.69,317.59 L467.49,318.13 L467.35,318.67 L467.30,319.21 L467.33,319.75 L467.42,320.29 L467.55,320.83 L467.69,321.37 L467.84,321.91 L467.96,322.45 L468.06,322.99 L468.10,323.53 L468.03,324.07 L467.79,324.61 L467.42,325.15 L466.95,325.68 L466.42,326.22 L465.85,326.76 L465.27,327.30 L464.51,327.84 L463.59,328.38 L462.56,328.92 L461.50,329.46 L460.45,330.00 L459.50,330.54 L458.62,331.08 L457.74,331.62 L456.87,332.16 L456.04,332.70 L455.24,333.24 L454.51,333.78 L453.84,334.32 L453.21,334.86 L452.60,335.40 L452.02,335.94 L451.48,336.47 L450.96,337.01 L450.47,337.55 L450.02,338.09 L449.60,338.63 L449.16,339.17 L448.71,339.71 L448.27,340.25 L447.87,340.79 L447.51,341.33 L447.23,341.87 L447.06,342.41 L447.00,342.95 L447.14,343.49 L447.49,344.03 L448.01,344.57 L448.65,345.11 L449.38,345.65 L450.15,346.19 L450.96,346.73 L452.10,347.26 L453.52,347.80 L455.09,348.34 L456.66,348.88 L458.12,349.42 L459.33,349.96 L460.33,350.50 L461.30,351.04 L462.20,351.58 L463.03,352.12 L463.75,352.66 L464.34,353.20 L464.78,353.74 L465.18,354.28 L465.54,354.82 L465.88,355.36 L466.18,355.90 L466.46,356.44 L466.70,356.98 L466.91,357.52 L467.10,358.05 L467.25,358.59 L467.38,359.13 L467.48,359.67 L467.58,360.21 L467.66,360.75 L467.73,361.29 L467.80,361.83 L467.87,362.37 L467.94,362.91 L468.01,363.45 L468.10,363.99 L468.19,364.53 L468.28,365.07 L468.37,365.61 L468.47,366.15 L468.56,366.69 L468.66,367.23 L468.75,367.77 L468.85,368.31 L468.95,368.84 L469.05,369.38 L469.15,369.92 L469.26,370.46 L469.36,371.00 L469.47,371.54 L469.57,372.08 L469.68,372.62 L469.79,373.16 L469.90,373.70 L469.90,373.70 L470.01,373.16 L470.12,372.62 L470.23,372.08 L470.33,371.54 L470.44,371.00 L470.54,370.46 L470.65,369.92 L470.75,369.38 L470.85,368.84 L470.95,368.31 L471.05,367.77 L471.14,367.23 L471.24,366.69 L471.33,366.15 L471.43,365.61 L471.52,365.07 L471.61,364.53 L471.70,363.99 L471.79,363.45 L471.86,362.91 L471.93,362.37 L472.00,361.83 L472.07,361.29 L472.14,360.75 L472.22,360.21 L472.32,359.67 L472.42,359.13 L472.55,358.59 L472.70,358.05 L472.89,357.52 L473.10,356.98 L473.34,356.44 L473.62,355.90 L473.92,355.36 L474.26,354.82 L474.62,354.28 L475.02,353.74 L475.46,353.20 L476.05,352.66 L476.77,352.12 L477.60,351.58 L478.50,351.04 L479.47,350.50 L480.47,349.96 L481.68,349.42 L483.14,348.88 L484.71,348.34 L486.28,347.80 L487.70,347.26 L488.84,346.73 L489.65,346.19 L490.42,345.65 L491.15,345.11 L491.79,344.57 L492.31,344.03 L492.66,343.49 L492.80,342.95 L492.74,342.41 L492.57,341.87 L492.29,341.33 L491.93,340.79 L491.53,340.25 L491.09,339.71 L490.64,339.17 L490.20,338.63 L489.78,338.09 L489.33,337.55 L488.84,337.01 L488.32,336.47 L487.78,335.94 L487.20,335.40 L486.59,334.86 L485.96,334.32 L485.29,333.78 L484.56,333.24 L483.76,332.70 L482.93,332.16 L482.06,331.62 L481.18,331.08 L480.30,330.54 L479.35,330.00 L478.30,329.46 L477.24,328.92 L476.21,328.38 L475.29,327.84 L474.53,327.30 L473.95,326.76 L473.38,326.22 L472.85,325.68 L472.38,325.15 L472.01,324.61 L471.77,324.07 L471.70,323.53 L471.74,322.99 L471.84,322.45 L471.96,321.91 L472.11,321.37 L472.25,320.83 L472.38,320.29 L472.47,319.75 L472.50,319.21 L472.45,318.67 L472.31,318.13 L472.11,317.59 L471.86,317.05 L471.60,316.51 L471.34,315.97 L471.11,315.43 L470.93,314.89 L470.79,314.36 L470.66,313.82 L470.53,313.28 L470.42,312.74 L470.30,312.20 L470.20,311.66 L470.11,311.12 L470.03,310.58 L469.96,310.04 L469.90,309.50Z" fill="#e92a8f" stroke="#d6127b" stroke-width="1.0"/>
<circle cx="474.75" cy="340.49" r="2.25" fill="#cf2480" fill-opacity="0.8" stroke="#50062e" stroke-width="0.9"/>
<circle cx="460.85" cy="343.99" r="2.25" fill="#cf2480" fill-opacity="0.8" stroke="#50062e" stroke-width="0.9"/>
<circle cx="469.00" cy="327.80" r="2.25" fill="#cf2480" fill-opacity="0.8" stroke="#50062e" stroke-width="0.9"/>
<circle cx="478.88" cy="336.39" r="2.25" fill="#cf2480" fill-opacity="0.8" stroke="#50062e" stroke-width="0.9"/>
<circle cx="473.24" cy="344.44" r="2.25" fill="#cf2480" fill-opacity="0.8" stroke="#50062e" stroke-width="0.9"/>
<circle cx="468.95" cy="333.20" r="2.25" fill="#cf2480" fill-opacity="0.8" stroke="#50062e" stroke-width="0.9"/>
<circle cx="481.41" cy="333.66" r="2.25" fill="#cf2480" fill-opacity="0.8" stroke="#50062e" stroke-width="0.9"/>
<circle cx="476.59" cy="330.34" r="2.25" fill="#cf2480" fill-opacity="0.8" stroke="#50062e" stroke-width="0.9"/>
<circle cx="467.92" cy="337.75" r="2.25" fill="#cf2480" fill-opacity="0.8" stroke="#50062e" stroke-width="0.9"/>
<circle cx="457.50" cy="347.62" r="2.25" fill="#cf2480" fill-opacity="0.8" stroke="#50062e" stroke-width="0.9"/>
<circle cx="475.66" cy="353.84" r="2.25" fill="#cf2480" fill-opacity="0.8" stroke="#50062e" stroke-width="0.9"/>
<circle cx="469.87" cy="342.71" r="2.25" fill="#cf2480" fill-opacity="0.8" stroke="#50062e" stroke-width="0.9"/>
<circle cx="457.82" cy="338.73" r="2.25" fill="#cf2480" fill-opacity="0.8" stroke="#50062e" stroke-width="0.9"/>
<circle cx="483.12" cy="345.13" r="2.25" fill="#cf2480" fill-opacity="0.8" stroke="#50062e" stroke-width="0.9"/>
<circle cx="464.19" cy="332.27" r="2.25" fill="#cf2480" fill-opacity="0.8" stroke="#50062e" stroke-width="0.9"/>
<circle cx="470.50" cy="346.86" r="2.25" fill="#cf2480" fill-opacity="0.8" stroke="#50062e" stroke-width="0.9"/>
<circle cx="475.79" cy="334.08" r="2.25" fill="#cf2480" fill-opacity="0.8" stroke="#50062e" stroke-width="0.9"/>
<circle cx="482.89" cy="340.52" r="2.25" fill="#cf2480" fill-opacity="0.8" stroke="#50062e" stroke-width="0.9"/>
<circle cx="462.11" cy="338.32" r="2.25" fill="#cf2480" fill-opacity="0.8" stroke="#50062e" stroke-width="0.9"/>
<circle cx="466.23" cy="346.02" r="2.25" fill="#cf2480" fill-opacity="0.8" stroke="#50062e" stroke-width="0.9"/>
<circle cx="472.50" cy="329.52" r="2.25" fill="#cf2480" fill-opacity="0.8" stroke="#50062e" stroke-width="0.9"/>
<circle cx="462.73" cy="349.09" r="2.25" fill="#cf2480" fill-opacity="0.8" stroke="#50062e" stroke-width="0.9"/>
<circle cx="479.60" cy="350.02" r="2.25" fill="#cf2480" fill-opacity="0.8" stroke="#50062e" stroke-width="0.9"/>
<circle cx="478.31" cy="341.61" r="2.25" fill="#cf2480" fill-opacity="0.8" stroke="#50062e" stroke-width="0.9"/>
<circle cx="473.91" cy="350.61" r="2.25" fill="#cf2480" fill-opacity="0.8" stroke="#50062e" stroke-width="0.9"/>
<circle cx="459.98" cy="333.10" r="2.25" fill="#cf2480" fill-opacity="0.8" stroke="#50062e" stroke-width="0.9"/>
<circle cx="468.08" cy="350.64" r="2.25" fill="#cf2480" fill-opacity="0.8" stroke="#50062e" stroke-width="0.9"/>
<circle cx="465.53" cy="341.76" r="2.25" fill="#cf2480" fill-opacity="0.8" stroke="#50062e" stroke-width="0.9"/>
<circle cx="468.70" cy="354.76" r="2.25" fill="#cf2480" fill-opacity="0.8" stroke="#50062e" stroke-width="0.9"/>
<circle cx="471.41" cy="336.09" r="2.25" fill="#cf2480" fill-opacity="0.8" stroke="#50062e" stroke-width="0.9"/>
<circle cx="477.16" cy="346.63" r="2.25" fill="#cf2480" fill-opacity="0.8" stroke="#50062e" stroke-width="0.9"/>
<circle cx="464.87" cy="354.00" r="2.25" fill="#cf2480" fill-opacity="0.8" stroke="#50062e" stroke-width="0.9"/>
<circle cx="457.28" cy="343.17" r="2.25" fill="#cf2480" fill-opacity="0.8" stroke="#50062e" stroke-width="0.9"/>
<circle cx="464.47" cy="328.58" r="2.25" fill="#cf2480" fill-opacity="0.8" stroke="#50062e" stroke-width="0.9"/>
<circle cx="483.82" cy="336.87" r="2.25" fill="#cf2480" fill-opacity="0.8" stroke="#50062e" stroke-width="0.9"/>
<circle cx="472.50" cy="318.00" r="2.25" fill="#cf2480" fill-opacity="0.8" stroke="#50062e" stroke-width="0.9"/>
<circle cx="472.50" cy="322.00" r="2.25" fill="#cf2480" fill-opacity="0.8" stroke="#50062e" stroke-width="0.9"/>
<circle cx="461.10" cy="357.00" r="2.25" fill="#cf2480" fill-opacity="0.8" stroke="#50062e" stroke-width="0.9"/>
<circle cx="466.40" cy="365.80" r="2.25" fill="#cf2480" fill-opacity="0.8" stroke="#50062e" stroke-width="0.9"/>
<circle cx="468.10" cy="362.30" r="2.25" fill="#cf2480" fill-opacity="0.8" stroke="#50062e" stroke-width="0.9"/>
<line x1="0" y1="0.5" x2="520" y2="0.5" stroke="#6a6a6a" stroke-width="1"/>
<line x1="0.5" y1="0" x2="0.5" y2="398" stroke="#555" stroke-width="1"/>
<line x1="519.5" y1="0" x2="519.5" y2="398" stroke="#2e2e2e" stroke-width="1"/>
<line x1="0" y1="397.5" x2="520" y2="397.5" stroke="#383838" stroke-width="1"/>
</svg></div></body></html>
